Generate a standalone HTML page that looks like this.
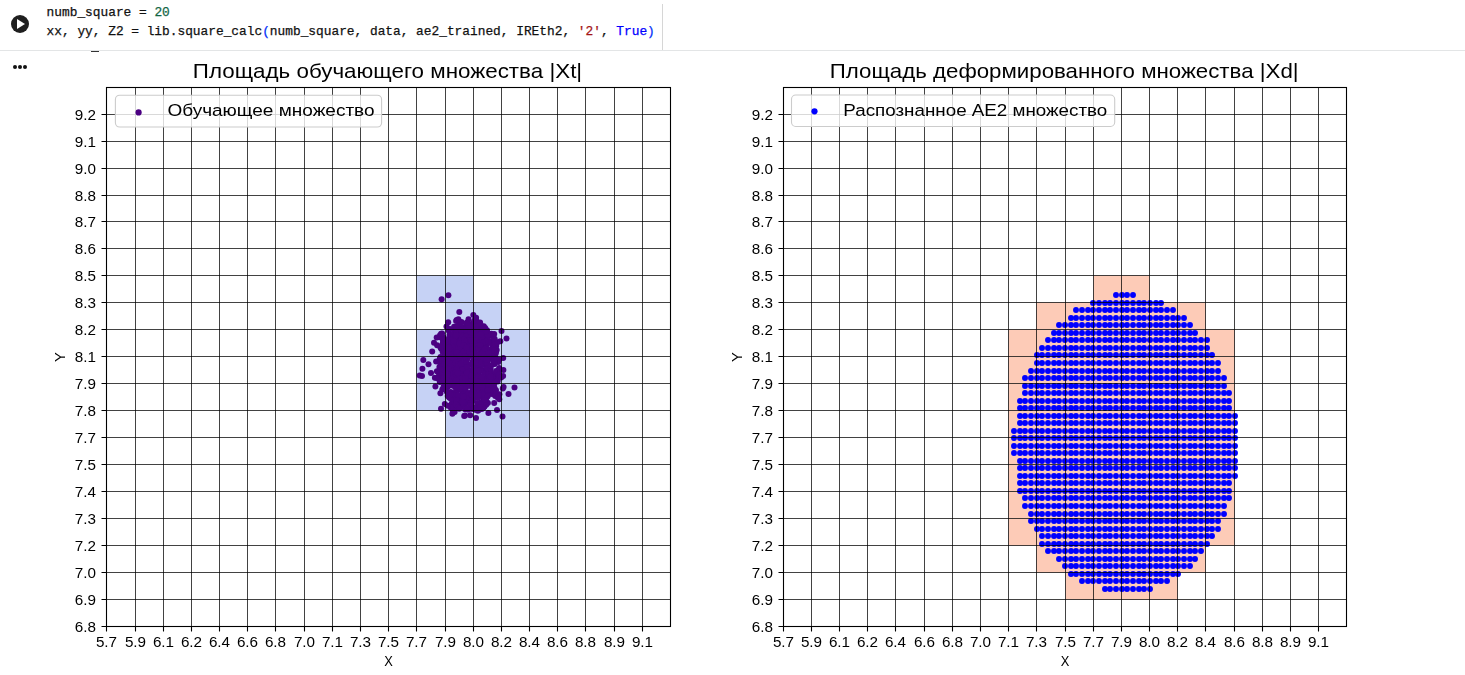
<!DOCTYPE html>
<html><head><meta charset="utf-8"><title>Colab cell</title>
<style>
html,body{margin:0;padding:0;background:#fff;}
body{width:1465px;height:675px;position:relative;overflow:hidden;font-family:"Liberation Sans",sans-serif;}
.code{position:absolute;left:46.6px;font-family:"Liberation Mono",monospace;font-size:12.83px;color:#111;white-space:pre;-webkit-text-stroke:0.25px currentColor;line-height:16px;}
.hline{position:absolute;left:0;top:50px;width:1465px;height:1px;background:#e3e5e6;}
.vline{position:absolute;left:662px;top:4px;width:1px;height:46px;background:#d6d6d6;}
.play{position:absolute;left:11px;top:14.8px;width:18px;height:18px;border-radius:50%;background:#1f1f1f;}
.play:after{content:"";position:absolute;left:6.4px;top:3.95px;border-left:8.5px solid #fff;border-top:5.2px solid transparent;border-bottom:5.2px solid transparent;}
.dash{position:absolute;left:91px;top:50.5px;width:8px;height:1.2px;background:#333;}
.dots{position:absolute;top:65px;width:4px;height:4px;border-radius:50%;background:#111;}
</style></head>
<body>
<div class="play"></div>
<div class="code" style="top:5px">numb_square = <span style="color:#116644">20</span></div>
<div class="code" style="top:24px">xx, yy, Z2 = lib.square_calc<span style="color:#0431fa">(</span>numb_square, data, ae2_trained, IREth2, <span style="color:#a31515">'2'</span>, <span style="color:#0000ff">True</span><span style="color:#0431fa">)</span></div>
<div class="vline"></div>
<div class="hline"></div>
<div class="dash"></div>
<div class="dots" style="left:13px"></div><div class="dots" style="left:18px"></div><div class="dots" style="left:23px"></div>
<svg width="1465" height="675" viewBox="0 0 1465 675" style="position:absolute;left:0;top:0;will-change:transform" font-family="Liberation Sans, sans-serif">
<g fill="#c6d2f5"><rect x="416.5" y="275.5" width="57" height="27"/><rect x="445.5" y="302.5" width="56" height="27"/><rect x="416.5" y="329.5" width="113" height="27"/><rect x="416.5" y="356.5" width="113" height="27"/><rect x="416.5" y="383.5" width="113" height="27"/><rect x="445.5" y="410.5" width="84" height="27"/></g>
<g fill="#4b0082"><circle cx="446.3" cy="366.4" r="3"/><circle cx="475.2" cy="325.0" r="3"/><circle cx="496.3" cy="377.2" r="3"/><circle cx="461.0" cy="367.5" r="3"/><circle cx="478.9" cy="346.7" r="3"/><circle cx="446.9" cy="391.8" r="3"/><circle cx="479.4" cy="367.6" r="3"/><circle cx="488.3" cy="370.8" r="3"/><circle cx="472.3" cy="365.1" r="3"/><circle cx="460.0" cy="374.6" r="3"/><circle cx="452.9" cy="393.1" r="3"/><circle cx="491.4" cy="333.8" r="3"/><circle cx="467.0" cy="346.9" r="3"/><circle cx="464.7" cy="335.5" r="3"/><circle cx="479.6" cy="340.3" r="3"/><circle cx="493.5" cy="341.6" r="3"/><circle cx="459.6" cy="363.8" r="3"/><circle cx="493.8" cy="383.9" r="3"/><circle cx="459.2" cy="324.0" r="3"/><circle cx="466.5" cy="383.3" r="3"/><circle cx="490.1" cy="374.2" r="3"/><circle cx="457.3" cy="350.4" r="3"/><circle cx="443.9" cy="337.7" r="3"/><circle cx="466.9" cy="333.7" r="3"/><circle cx="483.6" cy="339.7" r="3"/><circle cx="442.3" cy="375.2" r="3"/><circle cx="487.6" cy="339.2" r="3"/><circle cx="456.4" cy="386.5" r="3"/><circle cx="468.6" cy="397.6" r="3"/><circle cx="451.7" cy="350.2" r="3"/><circle cx="495.9" cy="352.5" r="3"/><circle cx="465.1" cy="350.2" r="3"/><circle cx="442.6" cy="358.1" r="3"/><circle cx="453.5" cy="396.9" r="3"/><circle cx="483.8" cy="370.5" r="3"/><circle cx="478.9" cy="383.4" r="3"/><circle cx="486.1" cy="404.1" r="3"/><circle cx="447.6" cy="377.6" r="3"/><circle cx="447.3" cy="361.5" r="3"/><circle cx="486.5" cy="401.2" r="3"/><circle cx="460.4" cy="336.8" r="3"/><circle cx="453.4" cy="353.9" r="3"/><circle cx="477.3" cy="336.6" r="3"/><circle cx="468.9" cy="329.4" r="3"/><circle cx="475.8" cy="342.9" r="3"/><circle cx="472.4" cy="378.6" r="3"/><circle cx="458.3" cy="379.1" r="3"/><circle cx="460.0" cy="334.0" r="3"/><circle cx="457.7" cy="357.3" r="3"/><circle cx="443.8" cy="371.9" r="3"/><circle cx="481.2" cy="328.4" r="3"/><circle cx="487.7" cy="382.6" r="3"/><circle cx="447.3" cy="363.4" r="3"/><circle cx="482.3" cy="393.3" r="3"/><circle cx="484.9" cy="346.0" r="3"/><circle cx="486.7" cy="344.4" r="3"/><circle cx="446.9" cy="356.9" r="3"/><circle cx="468.9" cy="347.7" r="3"/><circle cx="475.5" cy="375.5" r="3"/><circle cx="453.1" cy="377.3" r="3"/><circle cx="460.3" cy="387.2" r="3"/><circle cx="456.2" cy="392.8" r="3"/><circle cx="463.8" cy="371.2" r="3"/><circle cx="479.6" cy="368.1" r="3"/><circle cx="444.4" cy="351.1" r="3"/><circle cx="472.0" cy="325.0" r="3"/><circle cx="447.9" cy="392.8" r="3"/><circle cx="486.3" cy="378.6" r="3"/><circle cx="493.5" cy="389.0" r="3"/><circle cx="456.7" cy="379.2" r="3"/><circle cx="459.2" cy="388.5" r="3"/><circle cx="462.0" cy="336.0" r="3"/><circle cx="492.0" cy="383.3" r="3"/><circle cx="483.9" cy="371.7" r="3"/><circle cx="486.3" cy="361.9" r="3"/><circle cx="473.0" cy="328.0" r="3"/><circle cx="472.4" cy="394.2" r="3"/><circle cx="481.5" cy="393.2" r="3"/><circle cx="468.8" cy="400.1" r="3"/><circle cx="461.1" cy="330.5" r="3"/><circle cx="476.3" cy="362.5" r="3"/><circle cx="464.6" cy="397.5" r="3"/><circle cx="446.9" cy="376.8" r="3"/><circle cx="463.7" cy="369.0" r="3"/><circle cx="469.0" cy="334.3" r="3"/><circle cx="469.7" cy="398.4" r="3"/><circle cx="442.6" cy="363.0" r="3"/><circle cx="498.9" cy="369.7" r="3"/><circle cx="445.8" cy="359.3" r="3"/><circle cx="451.1" cy="385.3" r="3"/><circle cx="471.5" cy="347.8" r="3"/><circle cx="454.1" cy="398.8" r="3"/><circle cx="485.2" cy="360.9" r="3"/><circle cx="463.2" cy="387.4" r="3"/><circle cx="448.2" cy="354.4" r="3"/><circle cx="469.5" cy="328.8" r="3"/><circle cx="462.0" cy="387.6" r="3"/><circle cx="475.7" cy="325.1" r="3"/><circle cx="441.2" cy="362.3" r="3"/><circle cx="460.8" cy="400.6" r="3"/><circle cx="495.2" cy="358.3" r="3"/><circle cx="484.0" cy="354.7" r="3"/><circle cx="447.9" cy="373.1" r="3"/><circle cx="443.8" cy="380.9" r="3"/><circle cx="487.9" cy="403.1" r="3"/><circle cx="465.8" cy="332.8" r="3"/><circle cx="497.5" cy="374.8" r="3"/><circle cx="479.6" cy="355.3" r="3"/><circle cx="449.7" cy="348.2" r="3"/><circle cx="482.5" cy="351.1" r="3"/><circle cx="480.7" cy="366.7" r="3"/><circle cx="465.9" cy="407.7" r="3"/><circle cx="448.6" cy="365.4" r="3"/><circle cx="468.3" cy="351.7" r="3"/><circle cx="448.8" cy="374.8" r="3"/><circle cx="462.8" cy="333.7" r="3"/><circle cx="440.5" cy="356.9" r="3"/><circle cx="474.1" cy="368.2" r="3"/><circle cx="467.6" cy="368.6" r="3"/><circle cx="462.7" cy="357.7" r="3"/><circle cx="467.0" cy="385.7" r="3"/><circle cx="465.1" cy="354.5" r="3"/><circle cx="478.7" cy="336.8" r="3"/><circle cx="439.2" cy="374.6" r="3"/><circle cx="470.9" cy="398.7" r="3"/><circle cx="463.9" cy="391.7" r="3"/><circle cx="475.0" cy="342.4" r="3"/><circle cx="461.4" cy="352.2" r="3"/><circle cx="472.9" cy="400.6" r="3"/><circle cx="460.8" cy="338.7" r="3"/><circle cx="462.0" cy="350.4" r="3"/><circle cx="462.1" cy="327.0" r="3"/><circle cx="472.3" cy="377.4" r="3"/><circle cx="484.2" cy="406.8" r="3"/><circle cx="460.1" cy="380.3" r="3"/><circle cx="465.5" cy="341.4" r="3"/><circle cx="492.7" cy="388.1" r="3"/><circle cx="463.6" cy="383.0" r="3"/><circle cx="465.2" cy="367.7" r="3"/><circle cx="484.9" cy="328.7" r="3"/><circle cx="479.9" cy="326.8" r="3"/><circle cx="453.7" cy="386.1" r="3"/><circle cx="480.2" cy="358.2" r="3"/><circle cx="456.5" cy="395.4" r="3"/><circle cx="488.0" cy="333.3" r="3"/><circle cx="457.2" cy="374.0" r="3"/><circle cx="457.3" cy="355.9" r="3"/><circle cx="444.9" cy="356.7" r="3"/><circle cx="494.0" cy="347.2" r="3"/><circle cx="455.0" cy="382.3" r="3"/><circle cx="492.4" cy="348.5" r="3"/><circle cx="461.5" cy="385.4" r="3"/><circle cx="486.8" cy="376.5" r="3"/><circle cx="449.4" cy="338.4" r="3"/><circle cx="484.7" cy="384.7" r="3"/><circle cx="493.2" cy="391.1" r="3"/><circle cx="464.2" cy="334.2" r="3"/><circle cx="492.8" cy="383.7" r="3"/><circle cx="473.7" cy="382.5" r="3"/><circle cx="462.0" cy="352.7" r="3"/><circle cx="473.6" cy="365.0" r="3"/><circle cx="481.7" cy="404.9" r="3"/><circle cx="490.2" cy="356.6" r="3"/><circle cx="461.2" cy="404.1" r="3"/><circle cx="462.6" cy="392.9" r="3"/><circle cx="444.2" cy="362.2" r="3"/><circle cx="470.0" cy="393.7" r="3"/><circle cx="492.0" cy="335.9" r="3"/><circle cx="476.1" cy="377.9" r="3"/><circle cx="447.7" cy="395.9" r="3"/><circle cx="472.3" cy="407.1" r="3"/><circle cx="449.9" cy="368.7" r="3"/><circle cx="458.2" cy="379.0" r="3"/><circle cx="475.6" cy="367.6" r="3"/><circle cx="458.3" cy="366.8" r="3"/><circle cx="461.2" cy="400.9" r="3"/><circle cx="466.7" cy="364.3" r="3"/><circle cx="454.3" cy="344.8" r="3"/><circle cx="496.7" cy="350.1" r="3"/><circle cx="491.5" cy="374.8" r="3"/><circle cx="495.9" cy="390.5" r="3"/><circle cx="473.1" cy="384.9" r="3"/><circle cx="482.6" cy="362.0" r="3"/><circle cx="477.2" cy="342.6" r="3"/><circle cx="439.8" cy="382.0" r="3"/><circle cx="467.4" cy="402.2" r="3"/><circle cx="454.6" cy="394.5" r="3"/><circle cx="448.6" cy="342.6" r="3"/><circle cx="460.6" cy="332.7" r="3"/><circle cx="495.4" cy="354.3" r="3"/><circle cx="476.7" cy="362.5" r="3"/><circle cx="483.8" cy="393.4" r="3"/><circle cx="461.9" cy="369.6" r="3"/><circle cx="444.4" cy="347.6" r="3"/><circle cx="452.1" cy="349.7" r="3"/><circle cx="458.3" cy="373.1" r="3"/><circle cx="458.8" cy="351.3" r="3"/><circle cx="491.3" cy="378.3" r="3"/><circle cx="482.9" cy="406.8" r="3"/><circle cx="451.8" cy="403.5" r="3"/><circle cx="453.3" cy="368.2" r="3"/><circle cx="480.0" cy="392.7" r="3"/><circle cx="453.6" cy="364.5" r="3"/><circle cx="441.3" cy="347.8" r="3"/><circle cx="474.0" cy="391.7" r="3"/><circle cx="493.5" cy="351.7" r="3"/><circle cx="498.3" cy="362.0" r="3"/><circle cx="448.2" cy="369.1" r="3"/><circle cx="474.7" cy="383.5" r="3"/><circle cx="479.4" cy="326.1" r="3"/><circle cx="477.5" cy="403.6" r="3"/><circle cx="479.4" cy="408.3" r="3"/><circle cx="469.7" cy="393.8" r="3"/><circle cx="465.1" cy="399.6" r="3"/><circle cx="458.1" cy="377.4" r="3"/><circle cx="490.1" cy="385.1" r="3"/><circle cx="476.3" cy="407.9" r="3"/><circle cx="472.1" cy="406.5" r="3"/><circle cx="480.4" cy="349.7" r="3"/><circle cx="445.1" cy="361.9" r="3"/><circle cx="467.8" cy="363.7" r="3"/><circle cx="476.3" cy="346.5" r="3"/><circle cx="492.2" cy="347.9" r="3"/><circle cx="445.0" cy="353.2" r="3"/><circle cx="455.4" cy="404.0" r="3"/><circle cx="459.7" cy="396.7" r="3"/><circle cx="453.0" cy="338.4" r="3"/><circle cx="472.2" cy="335.2" r="3"/><circle cx="490.3" cy="357.3" r="3"/><circle cx="457.6" cy="366.6" r="3"/><circle cx="454.6" cy="374.9" r="3"/><circle cx="484.2" cy="406.7" r="3"/><circle cx="477.3" cy="387.1" r="3"/><circle cx="474.3" cy="329.7" r="3"/><circle cx="442.3" cy="389.4" r="3"/><circle cx="450.8" cy="392.0" r="3"/><circle cx="466.8" cy="323.1" r="3"/><circle cx="472.8" cy="361.5" r="3"/><circle cx="443.0" cy="345.5" r="3"/><circle cx="457.2" cy="352.9" r="3"/><circle cx="481.6" cy="337.2" r="3"/><circle cx="465.5" cy="375.9" r="3"/><circle cx="443.3" cy="339.4" r="3"/><circle cx="452.0" cy="336.8" r="3"/><circle cx="443.1" cy="340.9" r="3"/><circle cx="452.1" cy="364.7" r="3"/><circle cx="478.0" cy="354.5" r="3"/><circle cx="448.8" cy="330.8" r="3"/><circle cx="454.5" cy="337.5" r="3"/><circle cx="467.8" cy="399.2" r="3"/><circle cx="482.2" cy="340.4" r="3"/><circle cx="465.1" cy="354.5" r="3"/><circle cx="480.1" cy="329.9" r="3"/><circle cx="454.0" cy="382.8" r="3"/><circle cx="473.2" cy="368.0" r="3"/><circle cx="450.4" cy="372.3" r="3"/><circle cx="473.0" cy="408.7" r="3"/><circle cx="498.1" cy="374.2" r="3"/><circle cx="484.8" cy="383.9" r="3"/><circle cx="446.6" cy="375.5" r="3"/><circle cx="457.2" cy="354.1" r="3"/><circle cx="490.6" cy="385.6" r="3"/><circle cx="484.4" cy="347.8" r="3"/><circle cx="464.0" cy="338.0" r="3"/><circle cx="475.2" cy="396.3" r="3"/><circle cx="486.0" cy="404.7" r="3"/><circle cx="454.4" cy="384.2" r="3"/><circle cx="446.2" cy="369.7" r="3"/><circle cx="445.2" cy="370.1" r="3"/><circle cx="471.6" cy="353.0" r="3"/><circle cx="459.8" cy="385.1" r="3"/><circle cx="467.8" cy="358.4" r="3"/><circle cx="445.4" cy="347.3" r="3"/><circle cx="461.3" cy="399.1" r="3"/><circle cx="491.8" cy="341.7" r="3"/><circle cx="455.2" cy="383.8" r="3"/><circle cx="457.2" cy="406.6" r="3"/><circle cx="460.8" cy="386.8" r="3"/><circle cx="481.6" cy="341.3" r="3"/><circle cx="491.3" cy="351.4" r="3"/><circle cx="466.1" cy="378.2" r="3"/><circle cx="455.1" cy="396.6" r="3"/><circle cx="454.8" cy="397.1" r="3"/><circle cx="448.2" cy="361.9" r="3"/><circle cx="459.9" cy="357.2" r="3"/><circle cx="490.4" cy="373.5" r="3"/><circle cx="475.4" cy="356.8" r="3"/><circle cx="487.8" cy="366.7" r="3"/><circle cx="484.0" cy="402.9" r="3"/><circle cx="475.8" cy="360.8" r="3"/><circle cx="454.6" cy="402.8" r="3"/><circle cx="485.2" cy="392.9" r="3"/><circle cx="452.0" cy="360.9" r="3"/><circle cx="492.4" cy="344.1" r="3"/><circle cx="488.1" cy="369.9" r="3"/><circle cx="451.8" cy="355.5" r="3"/><circle cx="443.2" cy="381.7" r="3"/><circle cx="456.9" cy="390.2" r="3"/><circle cx="450.7" cy="369.8" r="3"/><circle cx="487.7" cy="372.7" r="3"/><circle cx="484.0" cy="372.2" r="3"/><circle cx="458.8" cy="373.7" r="3"/><circle cx="462.4" cy="332.9" r="3"/><circle cx="448.9" cy="344.1" r="3"/><circle cx="477.3" cy="373.6" r="3"/><circle cx="474.5" cy="394.8" r="3"/><circle cx="444.3" cy="356.7" r="3"/><circle cx="443.3" cy="359.4" r="3"/><circle cx="444.9" cy="356.8" r="3"/><circle cx="485.0" cy="347.3" r="3"/><circle cx="483.8" cy="343.0" r="3"/><circle cx="456.0" cy="364.0" r="3"/><circle cx="443.1" cy="362.0" r="3"/><circle cx="474.1" cy="395.1" r="3"/><circle cx="473.2" cy="373.4" r="3"/><circle cx="455.4" cy="370.6" r="3"/><circle cx="471.4" cy="402.6" r="3"/><circle cx="475.2" cy="409.7" r="3"/><circle cx="452.7" cy="380.8" r="3"/><circle cx="473.7" cy="367.7" r="3"/><circle cx="476.8" cy="371.0" r="3"/><circle cx="459.0" cy="379.0" r="3"/><circle cx="443.6" cy="364.7" r="3"/><circle cx="466.1" cy="341.3" r="3"/><circle cx="473.2" cy="381.5" r="3"/><circle cx="446.1" cy="348.6" r="3"/><circle cx="442.3" cy="375.1" r="3"/><circle cx="443.5" cy="342.7" r="3"/><circle cx="465.8" cy="362.3" r="3"/><circle cx="452.5" cy="376.2" r="3"/><circle cx="452.1" cy="374.9" r="3"/><circle cx="460.0" cy="350.5" r="3"/><circle cx="467.4" cy="374.1" r="3"/><circle cx="475.0" cy="383.1" r="3"/><circle cx="454.9" cy="330.6" r="3"/><circle cx="454.0" cy="351.2" r="3"/><circle cx="475.5" cy="359.0" r="3"/><circle cx="457.5" cy="331.2" r="3"/><circle cx="474.9" cy="332.2" r="3"/><circle cx="470.0" cy="383.1" r="3"/><circle cx="476.5" cy="336.6" r="3"/><circle cx="460.2" cy="405.3" r="3"/><circle cx="444.0" cy="382.2" r="3"/><circle cx="465.1" cy="376.5" r="3"/><circle cx="462.5" cy="333.4" r="3"/><circle cx="472.8" cy="323.0" r="3"/><circle cx="491.2" cy="392.8" r="3"/><circle cx="461.3" cy="369.8" r="3"/><circle cx="470.7" cy="408.7" r="3"/><circle cx="441.2" cy="348.7" r="3"/><circle cx="463.3" cy="391.8" r="3"/><circle cx="483.0" cy="359.8" r="3"/><circle cx="439.2" cy="379.5" r="3"/><circle cx="463.3" cy="332.8" r="3"/><circle cx="477.0" cy="361.7" r="3"/><circle cx="457.2" cy="346.2" r="3"/><circle cx="470.3" cy="344.3" r="3"/><circle cx="462.5" cy="405.4" r="3"/><circle cx="467.6" cy="344.8" r="3"/><circle cx="470.3" cy="403.2" r="3"/><circle cx="491.3" cy="382.1" r="3"/><circle cx="493.3" cy="389.1" r="3"/><circle cx="480.0" cy="360.2" r="3"/><circle cx="447.6" cy="386.9" r="3"/><circle cx="477.2" cy="407.7" r="3"/><circle cx="458.1" cy="399.7" r="3"/><circle cx="497.6" cy="381.5" r="3"/><circle cx="453.7" cy="405.6" r="3"/><circle cx="487.6" cy="360.2" r="3"/><circle cx="484.9" cy="401.9" r="3"/><circle cx="456.8" cy="399.4" r="3"/><circle cx="454.9" cy="351.4" r="3"/><circle cx="472.1" cy="324.6" r="3"/><circle cx="471.8" cy="337.5" r="3"/><circle cx="484.2" cy="333.8" r="3"/><circle cx="451.1" cy="346.2" r="3"/><circle cx="474.0" cy="393.6" r="3"/><circle cx="484.4" cy="387.7" r="3"/><circle cx="480.1" cy="370.3" r="3"/><circle cx="459.4" cy="338.3" r="3"/><circle cx="491.2" cy="358.5" r="3"/><circle cx="478.2" cy="328.5" r="3"/><circle cx="460.5" cy="331.3" r="3"/><circle cx="460.1" cy="387.0" r="3"/><circle cx="459.3" cy="382.5" r="3"/><circle cx="446.0" cy="356.4" r="3"/><circle cx="463.5" cy="367.3" r="3"/><circle cx="452.4" cy="384.0" r="3"/><circle cx="492.3" cy="394.0" r="3"/><circle cx="440.4" cy="365.5" r="3"/><circle cx="459.5" cy="372.9" r="3"/><circle cx="443.6" cy="386.7" r="3"/><circle cx="463.9" cy="405.6" r="3"/><circle cx="439.7" cy="359.3" r="3"/><circle cx="468.2" cy="395.6" r="3"/><circle cx="484.6" cy="338.5" r="3"/><circle cx="457.3" cy="387.2" r="3"/><circle cx="464.1" cy="345.6" r="3"/><circle cx="460.2" cy="370.9" r="3"/><circle cx="495.2" cy="341.6" r="3"/><circle cx="482.8" cy="382.9" r="3"/><circle cx="480.3" cy="370.4" r="3"/><circle cx="474.0" cy="339.9" r="3"/><circle cx="472.8" cy="381.7" r="3"/><circle cx="468.1" cy="382.3" r="3"/><circle cx="466.4" cy="393.2" r="3"/><circle cx="482.5" cy="330.3" r="3"/><circle cx="485.4" cy="347.6" r="3"/><circle cx="458.3" cy="368.7" r="3"/><circle cx="458.6" cy="340.4" r="3"/><circle cx="485.4" cy="355.4" r="3"/><circle cx="491.8" cy="344.0" r="3"/><circle cx="480.6" cy="354.0" r="3"/><circle cx="490.3" cy="379.4" r="3"/><circle cx="479.9" cy="330.7" r="3"/><circle cx="484.3" cy="353.7" r="3"/><circle cx="483.7" cy="396.9" r="3"/><circle cx="493.4" cy="360.8" r="3"/><circle cx="442.1" cy="373.7" r="3"/><circle cx="470.7" cy="395.1" r="3"/><circle cx="452.7" cy="363.2" r="3"/><circle cx="463.2" cy="376.0" r="3"/><circle cx="480.6" cy="358.9" r="3"/><circle cx="462.9" cy="345.1" r="3"/><circle cx="466.9" cy="373.1" r="3"/><circle cx="462.4" cy="367.0" r="3"/><circle cx="477.3" cy="397.5" r="3"/><circle cx="472.7" cy="356.2" r="3"/><circle cx="454.7" cy="335.8" r="3"/><circle cx="462.0" cy="352.7" r="3"/><circle cx="460.1" cy="397.4" r="3"/><circle cx="456.2" cy="334.2" r="3"/><circle cx="464.7" cy="354.2" r="3"/><circle cx="485.9" cy="404.8" r="3"/><circle cx="469.6" cy="394.2" r="3"/><circle cx="454.6" cy="353.3" r="3"/><circle cx="473.7" cy="343.3" r="3"/><circle cx="455.3" cy="339.0" r="3"/><circle cx="454.5" cy="396.4" r="3"/><circle cx="487.0" cy="332.5" r="3"/><circle cx="459.8" cy="386.1" r="3"/><circle cx="490.9" cy="371.8" r="3"/><circle cx="482.8" cy="343.4" r="3"/><circle cx="486.2" cy="394.7" r="3"/><circle cx="463.3" cy="343.3" r="3"/><circle cx="440.5" cy="377.9" r="3"/><circle cx="470.2" cy="405.1" r="3"/><circle cx="442.0" cy="360.9" r="3"/><circle cx="462.0" cy="399.1" r="3"/><circle cx="454.3" cy="357.2" r="3"/><circle cx="475.3" cy="376.6" r="3"/><circle cx="475.6" cy="379.8" r="3"/><circle cx="476.0" cy="325.5" r="3"/><circle cx="478.4" cy="373.9" r="3"/><circle cx="451.8" cy="359.4" r="3"/><circle cx="453.0" cy="398.9" r="3"/><circle cx="455.5" cy="336.8" r="3"/><circle cx="487.1" cy="389.5" r="3"/><circle cx="490.5" cy="382.1" r="3"/><circle cx="463.9" cy="364.3" r="3"/><circle cx="472.4" cy="374.9" r="3"/><circle cx="496.2" cy="345.9" r="3"/><circle cx="453.8" cy="367.5" r="3"/><circle cx="494.4" cy="380.1" r="3"/><circle cx="468.3" cy="384.3" r="3"/><circle cx="449.6" cy="334.8" r="3"/><circle cx="456.1" cy="335.3" r="3"/><circle cx="485.1" cy="395.9" r="3"/><circle cx="458.2" cy="382.9" r="3"/><circle cx="485.5" cy="363.0" r="3"/><circle cx="477.5" cy="403.2" r="3"/><circle cx="482.0" cy="390.8" r="3"/><circle cx="493.8" cy="359.3" r="3"/><circle cx="448.0" cy="364.2" r="3"/><circle cx="461.1" cy="357.1" r="3"/><circle cx="487.5" cy="379.9" r="3"/><circle cx="480.0" cy="379.9" r="3"/><circle cx="462.6" cy="397.3" r="3"/><circle cx="478.1" cy="392.1" r="3"/><circle cx="476.5" cy="391.5" r="3"/><circle cx="483.7" cy="394.0" r="3"/><circle cx="494.8" cy="343.4" r="3"/><circle cx="457.1" cy="334.4" r="3"/><circle cx="477.2" cy="325.1" r="3"/><circle cx="487.2" cy="348.8" r="3"/><circle cx="483.9" cy="402.6" r="3"/><circle cx="480.6" cy="359.9" r="3"/><circle cx="476.6" cy="397.8" r="3"/><circle cx="481.9" cy="344.7" r="3"/><circle cx="476.5" cy="328.1" r="3"/><circle cx="472.1" cy="374.3" r="3"/><circle cx="456.4" cy="400.5" r="3"/><circle cx="453.1" cy="335.2" r="3"/><circle cx="457.4" cy="352.3" r="3"/><circle cx="492.4" cy="380.3" r="3"/><circle cx="445.9" cy="357.1" r="3"/><circle cx="444.8" cy="384.6" r="3"/><circle cx="469.0" cy="344.0" r="3"/><circle cx="455.9" cy="388.2" r="3"/><circle cx="471.6" cy="349.8" r="3"/><circle cx="442.3" cy="375.5" r="3"/><circle cx="448.0" cy="383.0" r="3"/><circle cx="484.1" cy="335.0" r="3"/><circle cx="474.9" cy="340.8" r="3"/><circle cx="485.1" cy="347.7" r="3"/><circle cx="480.6" cy="379.5" r="3"/><circle cx="473.6" cy="341.7" r="3"/><circle cx="489.4" cy="353.7" r="3"/><circle cx="485.5" cy="364.3" r="3"/><circle cx="465.8" cy="385.2" r="3"/><circle cx="459.3" cy="389.7" r="3"/><circle cx="465.6" cy="387.7" r="3"/><circle cx="481.1" cy="405.7" r="3"/><circle cx="463.4" cy="353.2" r="3"/><circle cx="499.2" cy="367.9" r="3"/><circle cx="464.0" cy="384.2" r="3"/><circle cx="453.8" cy="406.8" r="3"/><circle cx="484.5" cy="379.6" r="3"/><circle cx="456.3" cy="393.7" r="3"/><circle cx="494.6" cy="392.1" r="3"/><circle cx="483.7" cy="398.7" r="3"/><circle cx="467.5" cy="329.6" r="3"/><circle cx="471.6" cy="343.8" r="3"/><circle cx="489.3" cy="378.3" r="3"/><circle cx="484.2" cy="381.6" r="3"/><circle cx="466.7" cy="333.2" r="3"/><circle cx="456.1" cy="367.0" r="3"/><circle cx="474.0" cy="349.0" r="3"/><circle cx="446.3" cy="352.6" r="3"/><circle cx="452.0" cy="357.2" r="3"/><circle cx="471.6" cy="344.7" r="3"/><circle cx="468.7" cy="371.1" r="3"/><circle cx="471.3" cy="335.4" r="3"/><circle cx="482.9" cy="365.0" r="3"/><circle cx="454.2" cy="355.9" r="3"/><circle cx="467.9" cy="355.1" r="3"/><circle cx="453.6" cy="359.1" r="3"/><circle cx="465.1" cy="383.0" r="3"/><circle cx="477.0" cy="370.8" r="3"/><circle cx="449.0" cy="380.0" r="3"/><circle cx="448.6" cy="374.1" r="3"/><circle cx="479.7" cy="333.5" r="3"/><circle cx="486.7" cy="359.7" r="3"/><circle cx="443.3" cy="377.1" r="3"/><circle cx="454.2" cy="357.9" r="3"/><circle cx="493.9" cy="352.8" r="3"/><circle cx="472.4" cy="390.7" r="3"/><circle cx="484.7" cy="364.0" r="3"/><circle cx="453.1" cy="333.8" r="3"/><circle cx="452.1" cy="340.1" r="3"/><circle cx="493.9" cy="358.4" r="3"/><circle cx="445.6" cy="378.7" r="3"/><circle cx="466.4" cy="325.1" r="3"/><circle cx="454.5" cy="395.8" r="3"/><circle cx="466.3" cy="381.8" r="3"/><circle cx="478.4" cy="386.9" r="3"/><circle cx="465.4" cy="335.4" r="3"/><circle cx="487.6" cy="361.3" r="3"/><circle cx="465.5" cy="389.3" r="3"/><circle cx="462.2" cy="378.4" r="3"/><circle cx="454.0" cy="347.1" r="3"/><circle cx="465.7" cy="342.6" r="3"/><circle cx="495.6" cy="360.2" r="3"/><circle cx="461.8" cy="401.9" r="3"/><circle cx="487.0" cy="390.3" r="3"/><circle cx="494.3" cy="387.3" r="3"/><circle cx="457.1" cy="407.1" r="3"/><circle cx="464.1" cy="352.2" r="3"/><circle cx="467.4" cy="357.7" r="3"/><circle cx="491.0" cy="393.4" r="3"/><circle cx="484.0" cy="343.0" r="3"/><circle cx="465.3" cy="329.1" r="3"/><circle cx="483.8" cy="326.2" r="3"/><circle cx="462.7" cy="335.8" r="3"/><circle cx="456.2" cy="399.3" r="3"/><circle cx="449.4" cy="385.1" r="3"/><circle cx="453.8" cy="361.7" r="3"/><circle cx="475.8" cy="353.4" r="3"/><circle cx="450.6" cy="374.2" r="3"/><circle cx="458.2" cy="345.2" r="3"/><circle cx="443.2" cy="340.5" r="3"/><circle cx="482.8" cy="332.6" r="3"/><circle cx="477.9" cy="348.5" r="3"/><circle cx="452.5" cy="365.1" r="3"/><circle cx="465.1" cy="361.8" r="3"/><circle cx="445.7" cy="372.2" r="3"/><circle cx="443.4" cy="374.1" r="3"/><circle cx="457.9" cy="344.7" r="3"/><circle cx="494.7" cy="376.8" r="3"/><circle cx="443.1" cy="369.8" r="3"/><circle cx="455.2" cy="337.1" r="3"/><circle cx="495.8" cy="373.5" r="3"/><circle cx="488.6" cy="384.9" r="3"/><circle cx="456.3" cy="379.9" r="3"/><circle cx="456.1" cy="363.4" r="3"/><circle cx="488.7" cy="341.9" r="3"/><circle cx="449.2" cy="397.4" r="3"/><circle cx="466.8" cy="337.8" r="3"/><circle cx="457.9" cy="347.2" r="3"/><circle cx="493.2" cy="364.1" r="3"/><circle cx="494.6" cy="363.9" r="3"/><circle cx="473.1" cy="391.7" r="3"/><circle cx="456.0" cy="332.7" r="3"/><circle cx="475.4" cy="327.4" r="3"/><circle cx="467.0" cy="377.1" r="3"/><circle cx="485.3" cy="401.4" r="3"/><circle cx="450.9" cy="398.7" r="3"/><circle cx="468.8" cy="377.3" r="3"/><circle cx="466.7" cy="397.1" r="3"/><circle cx="489.1" cy="380.7" r="3"/><circle cx="482.2" cy="333.4" r="3"/><circle cx="451.1" cy="377.5" r="3"/><circle cx="484.1" cy="380.7" r="3"/><circle cx="474.9" cy="380.1" r="3"/><circle cx="447.5" cy="362.2" r="3"/><circle cx="458.6" cy="387.3" r="3"/><circle cx="470.1" cy="385.9" r="3"/><circle cx="480.9" cy="402.2" r="3"/><circle cx="479.2" cy="355.4" r="3"/><circle cx="444.7" cy="364.6" r="3"/><circle cx="489.9" cy="392.6" r="3"/><circle cx="445.0" cy="340.3" r="3"/><circle cx="480.9" cy="407.7" r="3"/><circle cx="480.9" cy="376.7" r="3"/><circle cx="488.0" cy="339.9" r="3"/><circle cx="468.6" cy="393.0" r="3"/><circle cx="461.8" cy="357.7" r="3"/><circle cx="465.7" cy="355.8" r="3"/><circle cx="478.5" cy="397.6" r="3"/><circle cx="491.3" cy="352.6" r="3"/><circle cx="475.6" cy="356.6" r="3"/><circle cx="489.7" cy="392.3" r="3"/><circle cx="478.9" cy="395.0" r="3"/><circle cx="469.6" cy="372.8" r="3"/><circle cx="448.4" cy="384.8" r="3"/><circle cx="456.1" cy="371.9" r="3"/><circle cx="476.1" cy="378.0" r="3"/><circle cx="472.9" cy="344.7" r="3"/><circle cx="478.4" cy="380.7" r="3"/><circle cx="474.5" cy="355.7" r="3"/><circle cx="447.8" cy="371.5" r="3"/><circle cx="460.0" cy="347.4" r="3"/><circle cx="466.0" cy="331.6" r="3"/><circle cx="488.7" cy="373.0" r="3"/><circle cx="495.9" cy="351.6" r="3"/><circle cx="466.9" cy="337.6" r="3"/><circle cx="464.4" cy="404.1" r="3"/><circle cx="479.0" cy="370.5" r="3"/><circle cx="471.2" cy="378.4" r="3"/><circle cx="475.7" cy="362.3" r="3"/><circle cx="469.7" cy="331.4" r="3"/><circle cx="465.6" cy="381.9" r="3"/><circle cx="452.1" cy="346.9" r="3"/><circle cx="487.6" cy="334.5" r="3"/><circle cx="450.4" cy="394.5" r="3"/><circle cx="445.9" cy="348.9" r="3"/><circle cx="494.0" cy="358.8" r="3"/><circle cx="488.4" cy="389.8" r="3"/><circle cx="494.1" cy="350.8" r="3"/><circle cx="463.1" cy="404.8" r="3"/><circle cx="477.9" cy="377.8" r="3"/><circle cx="488.7" cy="357.2" r="3"/><circle cx="443.2" cy="359.0" r="3"/><circle cx="463.3" cy="357.8" r="3"/><circle cx="462.8" cy="368.9" r="3"/><circle cx="471.2" cy="340.5" r="3"/><circle cx="487.0" cy="368.0" r="3"/><circle cx="460.0" cy="407.3" r="3"/><circle cx="481.6" cy="336.8" r="3"/><circle cx="497.6" cy="373.4" r="3"/><circle cx="459.3" cy="343.4" r="3"/><circle cx="442.6" cy="344.0" r="3"/><circle cx="456.1" cy="352.8" r="3"/><circle cx="498.8" cy="374.6" r="3"/><circle cx="450.2" cy="355.1" r="3"/><circle cx="464.9" cy="329.8" r="3"/><circle cx="467.1" cy="367.2" r="3"/><circle cx="494.0" cy="360.6" r="3"/><circle cx="480.5" cy="382.3" r="3"/><circle cx="449.2" cy="372.4" r="3"/><circle cx="465.9" cy="336.8" r="3"/><circle cx="460.9" cy="329.7" r="3"/><circle cx="497.3" cy="380.6" r="3"/><circle cx="463.2" cy="396.2" r="3"/><circle cx="481.7" cy="359.1" r="3"/><circle cx="482.3" cy="387.4" r="3"/><circle cx="449.0" cy="385.5" r="3"/><circle cx="494.4" cy="383.0" r="3"/><circle cx="487.1" cy="363.8" r="3"/><circle cx="472.8" cy="390.0" r="3"/><circle cx="477.1" cy="328.7" r="3"/><circle cx="442.2" cy="346.5" r="3"/><circle cx="488.4" cy="342.0" r="3"/><circle cx="458.0" cy="394.9" r="3"/><circle cx="446.4" cy="347.1" r="3"/><circle cx="454.1" cy="326.7" r="3"/><circle cx="483.8" cy="350.7" r="3"/><circle cx="463.4" cy="351.8" r="3"/><circle cx="446.7" cy="347.6" r="3"/><circle cx="482.5" cy="353.2" r="3"/><circle cx="469.4" cy="351.6" r="3"/><circle cx="472.7" cy="350.4" r="3"/><circle cx="466.3" cy="323.3" r="3"/><circle cx="439.4" cy="367.1" r="3"/><circle cx="487.5" cy="368.6" r="3"/><circle cx="477.8" cy="381.6" r="3"/><circle cx="459.5" cy="361.8" r="3"/><circle cx="486.0" cy="341.5" r="3"/><circle cx="484.6" cy="347.9" r="3"/><circle cx="492.6" cy="389.8" r="3"/><circle cx="465.1" cy="409.3" r="3"/><circle cx="473.3" cy="408.7" r="3"/><circle cx="482.5" cy="326.6" r="3"/><circle cx="487.2" cy="396.2" r="3"/><circle cx="492.2" cy="377.2" r="3"/><circle cx="464.2" cy="339.8" r="3"/><circle cx="451.2" cy="340.2" r="3"/><circle cx="482.6" cy="342.8" r="3"/><circle cx="469.9" cy="338.1" r="3"/><circle cx="493.4" cy="336.2" r="3"/><circle cx="467.0" cy="376.1" r="3"/><circle cx="466.1" cy="341.5" r="3"/><circle cx="456.2" cy="404.7" r="3"/><circle cx="480.3" cy="364.0" r="3"/><circle cx="496.6" cy="358.9" r="3"/><circle cx="439.3" cy="360.8" r="3"/><circle cx="470.8" cy="370.8" r="3"/><circle cx="490.6" cy="368.5" r="3"/><circle cx="483.2" cy="358.9" r="3"/><circle cx="456.6" cy="352.0" r="3"/><circle cx="455.2" cy="362.4" r="3"/><circle cx="475.0" cy="395.6" r="3"/><circle cx="449.1" cy="362.1" r="3"/><circle cx="471.0" cy="394.5" r="3"/><circle cx="481.8" cy="377.3" r="3"/><circle cx="479.6" cy="361.9" r="3"/><circle cx="487.7" cy="396.2" r="3"/><circle cx="473.0" cy="332.8" r="3"/><circle cx="464.5" cy="345.8" r="3"/><circle cx="450.2" cy="348.6" r="3"/><circle cx="488.5" cy="353.1" r="3"/><circle cx="464.7" cy="356.2" r="3"/><circle cx="449.8" cy="372.8" r="3"/><circle cx="463.9" cy="404.9" r="3"/><circle cx="476.2" cy="408.6" r="3"/><circle cx="490.9" cy="365.7" r="3"/><circle cx="445.8" cy="387.4" r="3"/><circle cx="446.9" cy="379.3" r="3"/><circle cx="458.2" cy="364.8" r="3"/><circle cx="484.7" cy="348.8" r="3"/><circle cx="449.0" cy="347.8" r="3"/><circle cx="496.1" cy="371.1" r="3"/><circle cx="456.0" cy="335.3" r="3"/><circle cx="442.7" cy="351.9" r="3"/><circle cx="476.0" cy="362.7" r="3"/><circle cx="473.3" cy="352.9" r="3"/><circle cx="487.0" cy="330.3" r="3"/><circle cx="484.8" cy="400.1" r="3"/><circle cx="485.8" cy="331.2" r="3"/><circle cx="473.9" cy="393.1" r="3"/><circle cx="463.6" cy="396.8" r="3"/><circle cx="448.6" cy="369.0" r="3"/><circle cx="472.5" cy="391.9" r="3"/><circle cx="463.6" cy="345.2" r="3"/><circle cx="481.9" cy="332.6" r="3"/><circle cx="460.9" cy="363.7" r="3"/><circle cx="486.6" cy="359.9" r="3"/><circle cx="472.8" cy="382.2" r="3"/><circle cx="479.7" cy="407.3" r="3"/><circle cx="466.8" cy="372.8" r="3"/><circle cx="453.7" cy="341.1" r="3"/><circle cx="470.2" cy="340.0" r="3"/><circle cx="473.3" cy="395.2" r="3"/><circle cx="442.9" cy="343.9" r="3"/><circle cx="468.8" cy="326.6" r="3"/><circle cx="447.2" cy="373.1" r="3"/><circle cx="462.9" cy="402.0" r="3"/><circle cx="473.3" cy="389.1" r="3"/><circle cx="459.6" cy="355.7" r="3"/><circle cx="490.6" cy="376.6" r="3"/><circle cx="494.3" cy="344.7" r="3"/><circle cx="445.5" cy="382.1" r="3"/><circle cx="462.3" cy="382.9" r="3"/><circle cx="460.5" cy="388.8" r="3"/><circle cx="466.3" cy="347.6" r="3"/><circle cx="471.1" cy="375.7" r="3"/><circle cx="447.6" cy="374.6" r="3"/><circle cx="470.9" cy="340.6" r="3"/><circle cx="457.9" cy="373.0" r="3"/><circle cx="479.0" cy="385.1" r="3"/><circle cx="465.4" cy="378.0" r="3"/><circle cx="472.3" cy="348.6" r="3"/><circle cx="451.9" cy="357.6" r="3"/><circle cx="480.6" cy="334.3" r="3"/><circle cx="477.3" cy="324.3" r="3"/><circle cx="449.7" cy="381.4" r="3"/><circle cx="487.8" cy="390.0" r="3"/><circle cx="480.2" cy="344.9" r="3"/><circle cx="498.8" cy="375.4" r="3"/><circle cx="443.5" cy="378.6" r="3"/><circle cx="467.8" cy="409.2" r="3"/><circle cx="440.4" cy="347.2" r="3"/><circle cx="476.4" cy="320.6" r="3"/><circle cx="465.4" cy="408.3" r="3"/><circle cx="456.7" cy="320.1" r="3"/><circle cx="480.1" cy="322.4" r="3"/><circle cx="495.3" cy="344.1" r="3"/><circle cx="500.3" cy="341.2" r="3"/><circle cx="499.3" cy="399.3" r="3"/><circle cx="499.4" cy="394.2" r="3"/><circle cx="470.2" cy="415.3" r="3"/><circle cx="485.2" cy="328.0" r="3"/><circle cx="452.4" cy="413.7" r="3"/><circle cx="439.1" cy="372.7" r="3"/><circle cx="495.7" cy="389.9" r="3"/><circle cx="495.2" cy="396.1" r="3"/><circle cx="474.4" cy="320.4" r="3"/><circle cx="496.0" cy="394.2" r="3"/><circle cx="436.9" cy="371.3" r="3"/><circle cx="446.5" cy="326.6" r="3"/><circle cx="468.5" cy="319.3" r="3"/><circle cx="503.1" cy="375.9" r="3"/><circle cx="476.1" cy="317.8" r="3"/><circle cx="435.4" cy="386.5" r="3"/><circle cx="498.6" cy="396.0" r="3"/><circle cx="439.7" cy="337.2" r="3"/><circle cx="502.8" cy="388.4" r="3"/><circle cx="499.0" cy="374.8" r="3"/><circle cx="436.1" cy="361.5" r="3"/><circle cx="483.1" cy="408.3" r="3"/><circle cx="497.2" cy="342.5" r="3"/><circle cx="440.2" cy="381.4" r="3"/><circle cx="437.1" cy="345.2" r="3"/><circle cx="467.2" cy="322.4" r="3"/><circle cx="444.8" cy="404.1" r="3"/><circle cx="503.2" cy="358.0" r="3"/><circle cx="474.7" cy="408.6" r="3"/><circle cx="452.9" cy="409.9" r="3"/><circle cx="464.2" cy="416.1" r="3"/><circle cx="467.8" cy="409.5" r="3"/><circle cx="440.0" cy="335.2" r="3"/><circle cx="477.9" cy="410.7" r="3"/><circle cx="467.2" cy="408.6" r="3"/><circle cx="456.5" cy="326.5" r="3"/><circle cx="442.1" cy="333.6" r="3"/><circle cx="440.0" cy="358.5" r="3"/><circle cx="501.2" cy="377.6" r="3"/><circle cx="439.9" cy="369.0" r="3"/><circle cx="503.4" cy="369.9" r="3"/><circle cx="453.0" cy="412.1" r="3"/><circle cx="479.0" cy="409.7" r="3"/><circle cx="494.7" cy="338.9" r="3"/><circle cx="440.4" cy="393.3" r="3"/><circle cx="461.5" cy="322.1" r="3"/><circle cx="450.0" cy="329.0" r="3"/><circle cx="456.4" cy="326.9" r="3"/><circle cx="480.7" cy="406.9" r="3"/><circle cx="497.9" cy="397.7" r="3"/><circle cx="434.9" cy="377.8" r="3"/><circle cx="499.1" cy="359.6" r="3"/><circle cx="473.3" cy="315.0" r="3"/><circle cx="457.9" cy="407.3" r="3"/><circle cx="436.7" cy="377.9" r="3"/><circle cx="456.1" cy="321.1" r="3"/><circle cx="459.1" cy="408.7" r="3"/><circle cx="450.9" cy="407.8" r="3"/><circle cx="481.6" cy="409.1" r="3"/><circle cx="494.2" cy="334.0" r="3"/><circle cx="494.2" cy="402.9" r="3"/><circle cx="447.9" cy="405.7" r="3"/><circle cx="441.6" cy="299.2" r="3"/><circle cx="448.4" cy="295.2" r="3"/><circle cx="459.3" cy="312.1" r="3"/><circle cx="448.2" cy="322.3" r="3"/><circle cx="458.4" cy="319.2" r="3"/><circle cx="441.1" cy="333.7" r="3"/><circle cx="436.7" cy="337.4" r="3"/><circle cx="434.0" cy="342.8" r="3"/><circle cx="432.2" cy="351.4" r="3"/><circle cx="423.3" cy="360.1" r="3"/><circle cx="428.5" cy="364.3" r="3"/><circle cx="422.4" cy="368.7" r="3"/><circle cx="506.5" cy="338.5" r="3"/><circle cx="501.5" cy="331.0" r="3"/><circle cx="503.6" cy="387.0" r="3"/><circle cx="508.5" cy="394.0" r="3"/><circle cx="514.5" cy="387.4" r="3"/><circle cx="488.4" cy="413.0" r="3"/><circle cx="502.5" cy="416.5" r="3"/><circle cx="497.0" cy="410.0" r="3"/><circle cx="476.0" cy="418.0" r="3"/><circle cx="419.7" cy="375.5" r="3"/><circle cx="422.0" cy="376.0" r="3"/><circle cx="441.0" cy="408.8" r="3"/><circle cx="454.6" cy="412.0" r="3"/><circle cx="465.0" cy="415.6" r="3"/><circle cx="431.0" cy="373.0" r="3"/></g>
<path d="M135.5 87.5V626.5M163.5 87.5V626.5M191.5 87.5V626.5M219.5 87.5V626.5M247.5 87.5V626.5M275.5 87.5V626.5M304.5 87.5V626.5M332.5 87.5V626.5M360.5 87.5V626.5M388.5 87.5V626.5M416.5 87.5V626.5M445.5 87.5V626.5M473.5 87.5V626.5M501.5 87.5V626.5M529.5 87.5V626.5M557.5 87.5V626.5M585.5 87.5V626.5M614.5 87.5V626.5M642.5 87.5V626.5" stroke="#000" stroke-opacity="0.74" stroke-width="1" fill="none" shape-rendering="crispEdges"/><path d="M106.5 114.5H670.5M106.5 141.5H670.5M106.5 168.5H670.5M106.5 195.5H670.5M106.5 221.5H670.5M106.5 248.5H670.5M106.5 275.5H670.5M106.5 302.5H670.5M106.5 329.5H670.5M106.5 356.5H670.5M106.5 383.5H670.5M106.5 410.5H670.5M106.5 437.5H670.5M106.5 464.5H670.5M106.5 491.5H670.5M106.5 518.5H670.5M106.5 545.5H670.5M106.5 572.5H670.5M106.5 599.5H670.5" stroke="#000" stroke-opacity="0.74" stroke-width="1" fill="none" shape-rendering="crispEdges"/>
<rect x="106.5" y="87.5" width="564.0" height="539.0" fill="none" stroke="#000" stroke-width="1.1"/><path d="M106.5 626.5v5M135.5 626.5v5M163.5 626.5v5M191.5 626.5v5M219.5 626.5v5M247.5 626.5v5M275.5 626.5v5M304.5 626.5v5M332.5 626.5v5M360.5 626.5v5M388.5 626.5v5M416.5 626.5v5M445.5 626.5v5M473.5 626.5v5M501.5 626.5v5M529.5 626.5v5M557.5 626.5v5M585.5 626.5v5M614.5 626.5v5M642.5 626.5v5M106.5 114.5h-5M106.5 141.5h-5M106.5 168.5h-5M106.5 195.5h-5M106.5 221.5h-5M106.5 248.5h-5M106.5 275.5h-5M106.5 302.5h-5M106.5 329.5h-5M106.5 356.5h-5M106.5 383.5h-5M106.5 410.5h-5M106.5 437.5h-5M106.5 464.5h-5M106.5 491.5h-5M106.5 518.5h-5M106.5 545.5h-5M106.5 572.5h-5M106.5 599.5h-5M106.5 626.5h-5" stroke="#000" stroke-width="1.1" fill="none"/>
<g font-size="14.7" fill="#000"><text x="106.50" y="646.9" text-anchor="middle" textLength="21.2" lengthAdjust="spacingAndGlyphs">5.7</text><text x="135.50" y="646.9" text-anchor="middle" textLength="21.2" lengthAdjust="spacingAndGlyphs">5.9</text><text x="163.50" y="646.9" text-anchor="middle" textLength="21.2" lengthAdjust="spacingAndGlyphs">6.1</text><text x="191.50" y="646.9" text-anchor="middle" textLength="21.2" lengthAdjust="spacingAndGlyphs">6.2</text><text x="219.50" y="646.9" text-anchor="middle" textLength="21.2" lengthAdjust="spacingAndGlyphs">6.4</text><text x="247.50" y="646.9" text-anchor="middle" textLength="21.2" lengthAdjust="spacingAndGlyphs">6.6</text><text x="275.50" y="646.9" text-anchor="middle" textLength="21.2" lengthAdjust="spacingAndGlyphs">6.8</text><text x="304.50" y="646.9" text-anchor="middle" textLength="21.2" lengthAdjust="spacingAndGlyphs">7.0</text><text x="332.50" y="646.9" text-anchor="middle" textLength="21.2" lengthAdjust="spacingAndGlyphs">7.1</text><text x="360.50" y="646.9" text-anchor="middle" textLength="21.2" lengthAdjust="spacingAndGlyphs">7.3</text><text x="388.50" y="646.9" text-anchor="middle" textLength="21.2" lengthAdjust="spacingAndGlyphs">7.5</text><text x="416.50" y="646.9" text-anchor="middle" textLength="21.2" lengthAdjust="spacingAndGlyphs">7.7</text><text x="445.50" y="646.9" text-anchor="middle" textLength="21.2" lengthAdjust="spacingAndGlyphs">7.9</text><text x="473.50" y="646.9" text-anchor="middle" textLength="21.2" lengthAdjust="spacingAndGlyphs">8.0</text><text x="501.50" y="646.9" text-anchor="middle" textLength="21.2" lengthAdjust="spacingAndGlyphs">8.2</text><text x="529.50" y="646.9" text-anchor="middle" textLength="21.2" lengthAdjust="spacingAndGlyphs">8.4</text><text x="557.50" y="646.9" text-anchor="middle" textLength="21.2" lengthAdjust="spacingAndGlyphs">8.6</text><text x="585.50" y="646.9" text-anchor="middle" textLength="21.2" lengthAdjust="spacingAndGlyphs">8.8</text><text x="614.50" y="646.9" text-anchor="middle" textLength="21.2" lengthAdjust="spacingAndGlyphs">8.9</text><text x="642.50" y="646.9" text-anchor="middle" textLength="21.2" lengthAdjust="spacingAndGlyphs">9.1</text><text x="95.90" y="120.00" text-anchor="end" textLength="21.2" lengthAdjust="spacingAndGlyphs">9.2</text><text x="95.90" y="147.00" text-anchor="end" textLength="21.2" lengthAdjust="spacingAndGlyphs">9.1</text><text x="95.90" y="174.00" text-anchor="end" textLength="21.2" lengthAdjust="spacingAndGlyphs">9.0</text><text x="95.90" y="201.00" text-anchor="end" textLength="21.2" lengthAdjust="spacingAndGlyphs">8.8</text><text x="95.90" y="227.00" text-anchor="end" textLength="21.2" lengthAdjust="spacingAndGlyphs">8.7</text><text x="95.90" y="254.00" text-anchor="end" textLength="21.2" lengthAdjust="spacingAndGlyphs">8.6</text><text x="95.90" y="281.00" text-anchor="end" textLength="21.2" lengthAdjust="spacingAndGlyphs">8.5</text><text x="95.90" y="308.00" text-anchor="end" textLength="21.2" lengthAdjust="spacingAndGlyphs">8.3</text><text x="95.90" y="335.00" text-anchor="end" textLength="21.2" lengthAdjust="spacingAndGlyphs">8.2</text><text x="95.90" y="362.00" text-anchor="end" textLength="21.2" lengthAdjust="spacingAndGlyphs">8.1</text><text x="95.90" y="389.00" text-anchor="end" textLength="21.2" lengthAdjust="spacingAndGlyphs">7.9</text><text x="95.90" y="416.00" text-anchor="end" textLength="21.2" lengthAdjust="spacingAndGlyphs">7.8</text><text x="95.90" y="443.00" text-anchor="end" textLength="21.2" lengthAdjust="spacingAndGlyphs">7.7</text><text x="95.90" y="470.00" text-anchor="end" textLength="21.2" lengthAdjust="spacingAndGlyphs">7.5</text><text x="95.90" y="497.00" text-anchor="end" textLength="21.2" lengthAdjust="spacingAndGlyphs">7.4</text><text x="95.90" y="524.00" text-anchor="end" textLength="21.2" lengthAdjust="spacingAndGlyphs">7.3</text><text x="95.90" y="551.00" text-anchor="end" textLength="21.2" lengthAdjust="spacingAndGlyphs">7.2</text><text x="95.90" y="578.00" text-anchor="end" textLength="21.2" lengthAdjust="spacingAndGlyphs">7.0</text><text x="95.90" y="605.00" text-anchor="end" textLength="21.2" lengthAdjust="spacingAndGlyphs">6.9</text><text x="95.90" y="632.00" text-anchor="end" textLength="21.2" lengthAdjust="spacingAndGlyphs">6.8</text><text x="388.50" y="665.9" text-anchor="middle" textLength="8.6" lengthAdjust="spacingAndGlyphs">X</text><text transform="translate(65.20 357.00) rotate(-90)" x="0" y="0" text-anchor="middle">Y</text></g>
<text x="192.80" y="77.95" font-size="20.3" textLength="389.40" lengthAdjust="spacingAndGlyphs">Площадь обучающего множества |Xt|</text>
<rect x="115.40" y="95.25" width="266.20" height="31.80" rx="4.2" ry="4.2" fill="#fff" fill-opacity="0.8" stroke="#cccccc" stroke-width="1.1"/><circle cx="138.6" cy="112.4" r="3.1" fill="#4b0082"/><text x="167.4" y="115.8" font-size="17.4" textLength="207.20" lengthAdjust="spacingAndGlyphs">Обучающее множество</text>
<g fill="#fdcbb7"><rect x="1093.5" y="275.5" width="56" height="27"/><rect x="1036.5" y="302.5" width="169" height="27"/><rect x="1008.5" y="329.5" width="226" height="27"/><rect x="1008.5" y="356.5" width="226" height="27"/><rect x="1008.5" y="383.5" width="226" height="27"/><rect x="1008.5" y="410.5" width="226" height="27"/><rect x="1008.5" y="437.5" width="226" height="27"/><rect x="1008.5" y="464.5" width="226" height="27"/><rect x="1008.5" y="491.5" width="226" height="27"/><rect x="1008.5" y="518.5" width="226" height="27"/><rect x="1036.5" y="545.5" width="169" height="27"/><rect x="1065.5" y="572.5" width="112" height="27"/></g>
<g fill="#0000ff"><circle cx="1116" cy="295" r="2.95"/><circle cx="1122" cy="295" r="2.95"/><circle cx="1127" cy="295" r="2.95"/><circle cx="1133" cy="295" r="2.95"/><circle cx="1093" cy="303" r="2.95"/><circle cx="1099" cy="303" r="2.95"/><circle cx="1105" cy="303" r="2.95"/><circle cx="1110" cy="303" r="2.95"/><circle cx="1116" cy="303" r="2.95"/><circle cx="1122" cy="303" r="2.95"/><circle cx="1127" cy="303" r="2.95"/><circle cx="1133" cy="303" r="2.95"/><circle cx="1139" cy="303" r="2.95"/><circle cx="1144" cy="303" r="2.95"/><circle cx="1150" cy="303" r="2.95"/><circle cx="1156" cy="303" r="2.95"/><circle cx="1161" cy="303" r="2.95"/><circle cx="1076" cy="310" r="2.95"/><circle cx="1082" cy="310" r="2.95"/><circle cx="1088" cy="310" r="2.95"/><circle cx="1093" cy="310" r="2.95"/><circle cx="1099" cy="310" r="2.95"/><circle cx="1105" cy="310" r="2.95"/><circle cx="1110" cy="310" r="2.95"/><circle cx="1116" cy="310" r="2.95"/><circle cx="1122" cy="310" r="2.95"/><circle cx="1127" cy="310" r="2.95"/><circle cx="1133" cy="310" r="2.95"/><circle cx="1139" cy="310" r="2.95"/><circle cx="1144" cy="310" r="2.95"/><circle cx="1150" cy="310" r="2.95"/><circle cx="1156" cy="310" r="2.95"/><circle cx="1161" cy="310" r="2.95"/><circle cx="1167" cy="310" r="2.95"/><circle cx="1173" cy="310" r="2.95"/><circle cx="1071" cy="318" r="2.95"/><circle cx="1076" cy="318" r="2.95"/><circle cx="1082" cy="318" r="2.95"/><circle cx="1088" cy="318" r="2.95"/><circle cx="1093" cy="318" r="2.95"/><circle cx="1099" cy="318" r="2.95"/><circle cx="1105" cy="318" r="2.95"/><circle cx="1110" cy="318" r="2.95"/><circle cx="1116" cy="318" r="2.95"/><circle cx="1122" cy="318" r="2.95"/><circle cx="1127" cy="318" r="2.95"/><circle cx="1133" cy="318" r="2.95"/><circle cx="1139" cy="318" r="2.95"/><circle cx="1144" cy="318" r="2.95"/><circle cx="1150" cy="318" r="2.95"/><circle cx="1156" cy="318" r="2.95"/><circle cx="1161" cy="318" r="2.95"/><circle cx="1167" cy="318" r="2.95"/><circle cx="1173" cy="318" r="2.95"/><circle cx="1178" cy="318" r="2.95"/><circle cx="1184" cy="318" r="2.95"/><circle cx="1059" cy="325" r="2.95"/><circle cx="1065" cy="325" r="2.95"/><circle cx="1071" cy="325" r="2.95"/><circle cx="1076" cy="325" r="2.95"/><circle cx="1082" cy="325" r="2.95"/><circle cx="1088" cy="325" r="2.95"/><circle cx="1093" cy="325" r="2.95"/><circle cx="1099" cy="325" r="2.95"/><circle cx="1105" cy="325" r="2.95"/><circle cx="1110" cy="325" r="2.95"/><circle cx="1116" cy="325" r="2.95"/><circle cx="1122" cy="325" r="2.95"/><circle cx="1127" cy="325" r="2.95"/><circle cx="1133" cy="325" r="2.95"/><circle cx="1139" cy="325" r="2.95"/><circle cx="1144" cy="325" r="2.95"/><circle cx="1150" cy="325" r="2.95"/><circle cx="1156" cy="325" r="2.95"/><circle cx="1161" cy="325" r="2.95"/><circle cx="1167" cy="325" r="2.95"/><circle cx="1173" cy="325" r="2.95"/><circle cx="1178" cy="325" r="2.95"/><circle cx="1184" cy="325" r="2.95"/><circle cx="1190" cy="325" r="2.95"/><circle cx="1054" cy="333" r="2.95"/><circle cx="1059" cy="333" r="2.95"/><circle cx="1065" cy="333" r="2.95"/><circle cx="1071" cy="333" r="2.95"/><circle cx="1076" cy="333" r="2.95"/><circle cx="1082" cy="333" r="2.95"/><circle cx="1088" cy="333" r="2.95"/><circle cx="1093" cy="333" r="2.95"/><circle cx="1099" cy="333" r="2.95"/><circle cx="1105" cy="333" r="2.95"/><circle cx="1110" cy="333" r="2.95"/><circle cx="1116" cy="333" r="2.95"/><circle cx="1122" cy="333" r="2.95"/><circle cx="1127" cy="333" r="2.95"/><circle cx="1133" cy="333" r="2.95"/><circle cx="1139" cy="333" r="2.95"/><circle cx="1144" cy="333" r="2.95"/><circle cx="1150" cy="333" r="2.95"/><circle cx="1156" cy="333" r="2.95"/><circle cx="1161" cy="333" r="2.95"/><circle cx="1167" cy="333" r="2.95"/><circle cx="1173" cy="333" r="2.95"/><circle cx="1178" cy="333" r="2.95"/><circle cx="1184" cy="333" r="2.95"/><circle cx="1190" cy="333" r="2.95"/><circle cx="1195" cy="333" r="2.95"/><circle cx="1048" cy="340" r="2.95"/><circle cx="1054" cy="340" r="2.95"/><circle cx="1059" cy="340" r="2.95"/><circle cx="1065" cy="340" r="2.95"/><circle cx="1071" cy="340" r="2.95"/><circle cx="1076" cy="340" r="2.95"/><circle cx="1082" cy="340" r="2.95"/><circle cx="1088" cy="340" r="2.95"/><circle cx="1093" cy="340" r="2.95"/><circle cx="1099" cy="340" r="2.95"/><circle cx="1105" cy="340" r="2.95"/><circle cx="1110" cy="340" r="2.95"/><circle cx="1116" cy="340" r="2.95"/><circle cx="1122" cy="340" r="2.95"/><circle cx="1127" cy="340" r="2.95"/><circle cx="1133" cy="340" r="2.95"/><circle cx="1139" cy="340" r="2.95"/><circle cx="1144" cy="340" r="2.95"/><circle cx="1150" cy="340" r="2.95"/><circle cx="1156" cy="340" r="2.95"/><circle cx="1161" cy="340" r="2.95"/><circle cx="1167" cy="340" r="2.95"/><circle cx="1173" cy="340" r="2.95"/><circle cx="1178" cy="340" r="2.95"/><circle cx="1184" cy="340" r="2.95"/><circle cx="1190" cy="340" r="2.95"/><circle cx="1195" cy="340" r="2.95"/><circle cx="1201" cy="340" r="2.95"/><circle cx="1207" cy="340" r="2.95"/><circle cx="1042" cy="348" r="2.95"/><circle cx="1048" cy="348" r="2.95"/><circle cx="1054" cy="348" r="2.95"/><circle cx="1059" cy="348" r="2.95"/><circle cx="1065" cy="348" r="2.95"/><circle cx="1071" cy="348" r="2.95"/><circle cx="1076" cy="348" r="2.95"/><circle cx="1082" cy="348" r="2.95"/><circle cx="1088" cy="348" r="2.95"/><circle cx="1093" cy="348" r="2.95"/><circle cx="1099" cy="348" r="2.95"/><circle cx="1105" cy="348" r="2.95"/><circle cx="1110" cy="348" r="2.95"/><circle cx="1116" cy="348" r="2.95"/><circle cx="1122" cy="348" r="2.95"/><circle cx="1127" cy="348" r="2.95"/><circle cx="1133" cy="348" r="2.95"/><circle cx="1139" cy="348" r="2.95"/><circle cx="1144" cy="348" r="2.95"/><circle cx="1150" cy="348" r="2.95"/><circle cx="1156" cy="348" r="2.95"/><circle cx="1161" cy="348" r="2.95"/><circle cx="1167" cy="348" r="2.95"/><circle cx="1173" cy="348" r="2.95"/><circle cx="1178" cy="348" r="2.95"/><circle cx="1184" cy="348" r="2.95"/><circle cx="1190" cy="348" r="2.95"/><circle cx="1195" cy="348" r="2.95"/><circle cx="1201" cy="348" r="2.95"/><circle cx="1207" cy="348" r="2.95"/><circle cx="1037" cy="355" r="2.95"/><circle cx="1042" cy="355" r="2.95"/><circle cx="1048" cy="355" r="2.95"/><circle cx="1054" cy="355" r="2.95"/><circle cx="1059" cy="355" r="2.95"/><circle cx="1065" cy="355" r="2.95"/><circle cx="1071" cy="355" r="2.95"/><circle cx="1076" cy="355" r="2.95"/><circle cx="1082" cy="355" r="2.95"/><circle cx="1088" cy="355" r="2.95"/><circle cx="1093" cy="355" r="2.95"/><circle cx="1099" cy="355" r="2.95"/><circle cx="1105" cy="355" r="2.95"/><circle cx="1110" cy="355" r="2.95"/><circle cx="1116" cy="355" r="2.95"/><circle cx="1122" cy="355" r="2.95"/><circle cx="1127" cy="355" r="2.95"/><circle cx="1133" cy="355" r="2.95"/><circle cx="1139" cy="355" r="2.95"/><circle cx="1144" cy="355" r="2.95"/><circle cx="1150" cy="355" r="2.95"/><circle cx="1156" cy="355" r="2.95"/><circle cx="1161" cy="355" r="2.95"/><circle cx="1167" cy="355" r="2.95"/><circle cx="1173" cy="355" r="2.95"/><circle cx="1178" cy="355" r="2.95"/><circle cx="1184" cy="355" r="2.95"/><circle cx="1190" cy="355" r="2.95"/><circle cx="1195" cy="355" r="2.95"/><circle cx="1201" cy="355" r="2.95"/><circle cx="1207" cy="355" r="2.95"/><circle cx="1212" cy="355" r="2.95"/><circle cx="1037" cy="363" r="2.95"/><circle cx="1042" cy="363" r="2.95"/><circle cx="1048" cy="363" r="2.95"/><circle cx="1054" cy="363" r="2.95"/><circle cx="1059" cy="363" r="2.95"/><circle cx="1065" cy="363" r="2.95"/><circle cx="1071" cy="363" r="2.95"/><circle cx="1076" cy="363" r="2.95"/><circle cx="1082" cy="363" r="2.95"/><circle cx="1088" cy="363" r="2.95"/><circle cx="1093" cy="363" r="2.95"/><circle cx="1099" cy="363" r="2.95"/><circle cx="1105" cy="363" r="2.95"/><circle cx="1110" cy="363" r="2.95"/><circle cx="1116" cy="363" r="2.95"/><circle cx="1122" cy="363" r="2.95"/><circle cx="1127" cy="363" r="2.95"/><circle cx="1133" cy="363" r="2.95"/><circle cx="1139" cy="363" r="2.95"/><circle cx="1144" cy="363" r="2.95"/><circle cx="1150" cy="363" r="2.95"/><circle cx="1156" cy="363" r="2.95"/><circle cx="1161" cy="363" r="2.95"/><circle cx="1167" cy="363" r="2.95"/><circle cx="1173" cy="363" r="2.95"/><circle cx="1178" cy="363" r="2.95"/><circle cx="1184" cy="363" r="2.95"/><circle cx="1190" cy="363" r="2.95"/><circle cx="1195" cy="363" r="2.95"/><circle cx="1201" cy="363" r="2.95"/><circle cx="1207" cy="363" r="2.95"/><circle cx="1212" cy="363" r="2.95"/><circle cx="1218" cy="363" r="2.95"/><circle cx="1031" cy="371" r="2.95"/><circle cx="1037" cy="371" r="2.95"/><circle cx="1042" cy="371" r="2.95"/><circle cx="1048" cy="371" r="2.95"/><circle cx="1054" cy="371" r="2.95"/><circle cx="1059" cy="371" r="2.95"/><circle cx="1065" cy="371" r="2.95"/><circle cx="1071" cy="371" r="2.95"/><circle cx="1076" cy="371" r="2.95"/><circle cx="1082" cy="371" r="2.95"/><circle cx="1088" cy="371" r="2.95"/><circle cx="1093" cy="371" r="2.95"/><circle cx="1099" cy="371" r="2.95"/><circle cx="1105" cy="371" r="2.95"/><circle cx="1110" cy="371" r="2.95"/><circle cx="1116" cy="371" r="2.95"/><circle cx="1122" cy="371" r="2.95"/><circle cx="1127" cy="371" r="2.95"/><circle cx="1133" cy="371" r="2.95"/><circle cx="1139" cy="371" r="2.95"/><circle cx="1144" cy="371" r="2.95"/><circle cx="1150" cy="371" r="2.95"/><circle cx="1156" cy="371" r="2.95"/><circle cx="1161" cy="371" r="2.95"/><circle cx="1167" cy="371" r="2.95"/><circle cx="1173" cy="371" r="2.95"/><circle cx="1178" cy="371" r="2.95"/><circle cx="1184" cy="371" r="2.95"/><circle cx="1190" cy="371" r="2.95"/><circle cx="1195" cy="371" r="2.95"/><circle cx="1201" cy="371" r="2.95"/><circle cx="1207" cy="371" r="2.95"/><circle cx="1212" cy="371" r="2.95"/><circle cx="1218" cy="371" r="2.95"/><circle cx="1025" cy="378" r="2.95"/><circle cx="1031" cy="378" r="2.95"/><circle cx="1037" cy="378" r="2.95"/><circle cx="1042" cy="378" r="2.95"/><circle cx="1048" cy="378" r="2.95"/><circle cx="1054" cy="378" r="2.95"/><circle cx="1059" cy="378" r="2.95"/><circle cx="1065" cy="378" r="2.95"/><circle cx="1071" cy="378" r="2.95"/><circle cx="1076" cy="378" r="2.95"/><circle cx="1082" cy="378" r="2.95"/><circle cx="1088" cy="378" r="2.95"/><circle cx="1093" cy="378" r="2.95"/><circle cx="1099" cy="378" r="2.95"/><circle cx="1105" cy="378" r="2.95"/><circle cx="1110" cy="378" r="2.95"/><circle cx="1116" cy="378" r="2.95"/><circle cx="1122" cy="378" r="2.95"/><circle cx="1127" cy="378" r="2.95"/><circle cx="1133" cy="378" r="2.95"/><circle cx="1139" cy="378" r="2.95"/><circle cx="1144" cy="378" r="2.95"/><circle cx="1150" cy="378" r="2.95"/><circle cx="1156" cy="378" r="2.95"/><circle cx="1161" cy="378" r="2.95"/><circle cx="1167" cy="378" r="2.95"/><circle cx="1173" cy="378" r="2.95"/><circle cx="1178" cy="378" r="2.95"/><circle cx="1184" cy="378" r="2.95"/><circle cx="1190" cy="378" r="2.95"/><circle cx="1195" cy="378" r="2.95"/><circle cx="1201" cy="378" r="2.95"/><circle cx="1207" cy="378" r="2.95"/><circle cx="1212" cy="378" r="2.95"/><circle cx="1218" cy="378" r="2.95"/><circle cx="1224" cy="378" r="2.95"/><circle cx="1025" cy="386" r="2.95"/><circle cx="1031" cy="386" r="2.95"/><circle cx="1037" cy="386" r="2.95"/><circle cx="1042" cy="386" r="2.95"/><circle cx="1048" cy="386" r="2.95"/><circle cx="1054" cy="386" r="2.95"/><circle cx="1059" cy="386" r="2.95"/><circle cx="1065" cy="386" r="2.95"/><circle cx="1071" cy="386" r="2.95"/><circle cx="1076" cy="386" r="2.95"/><circle cx="1082" cy="386" r="2.95"/><circle cx="1088" cy="386" r="2.95"/><circle cx="1093" cy="386" r="2.95"/><circle cx="1099" cy="386" r="2.95"/><circle cx="1105" cy="386" r="2.95"/><circle cx="1110" cy="386" r="2.95"/><circle cx="1116" cy="386" r="2.95"/><circle cx="1122" cy="386" r="2.95"/><circle cx="1127" cy="386" r="2.95"/><circle cx="1133" cy="386" r="2.95"/><circle cx="1139" cy="386" r="2.95"/><circle cx="1144" cy="386" r="2.95"/><circle cx="1150" cy="386" r="2.95"/><circle cx="1156" cy="386" r="2.95"/><circle cx="1161" cy="386" r="2.95"/><circle cx="1167" cy="386" r="2.95"/><circle cx="1173" cy="386" r="2.95"/><circle cx="1178" cy="386" r="2.95"/><circle cx="1184" cy="386" r="2.95"/><circle cx="1190" cy="386" r="2.95"/><circle cx="1195" cy="386" r="2.95"/><circle cx="1201" cy="386" r="2.95"/><circle cx="1207" cy="386" r="2.95"/><circle cx="1212" cy="386" r="2.95"/><circle cx="1218" cy="386" r="2.95"/><circle cx="1224" cy="386" r="2.95"/><circle cx="1025" cy="393" r="2.95"/><circle cx="1031" cy="393" r="2.95"/><circle cx="1037" cy="393" r="2.95"/><circle cx="1042" cy="393" r="2.95"/><circle cx="1048" cy="393" r="2.95"/><circle cx="1054" cy="393" r="2.95"/><circle cx="1059" cy="393" r="2.95"/><circle cx="1065" cy="393" r="2.95"/><circle cx="1071" cy="393" r="2.95"/><circle cx="1076" cy="393" r="2.95"/><circle cx="1082" cy="393" r="2.95"/><circle cx="1088" cy="393" r="2.95"/><circle cx="1093" cy="393" r="2.95"/><circle cx="1099" cy="393" r="2.95"/><circle cx="1105" cy="393" r="2.95"/><circle cx="1110" cy="393" r="2.95"/><circle cx="1116" cy="393" r="2.95"/><circle cx="1122" cy="393" r="2.95"/><circle cx="1127" cy="393" r="2.95"/><circle cx="1133" cy="393" r="2.95"/><circle cx="1139" cy="393" r="2.95"/><circle cx="1144" cy="393" r="2.95"/><circle cx="1150" cy="393" r="2.95"/><circle cx="1156" cy="393" r="2.95"/><circle cx="1161" cy="393" r="2.95"/><circle cx="1167" cy="393" r="2.95"/><circle cx="1173" cy="393" r="2.95"/><circle cx="1178" cy="393" r="2.95"/><circle cx="1184" cy="393" r="2.95"/><circle cx="1190" cy="393" r="2.95"/><circle cx="1195" cy="393" r="2.95"/><circle cx="1201" cy="393" r="2.95"/><circle cx="1207" cy="393" r="2.95"/><circle cx="1212" cy="393" r="2.95"/><circle cx="1218" cy="393" r="2.95"/><circle cx="1224" cy="393" r="2.95"/><circle cx="1229" cy="393" r="2.95"/><circle cx="1020" cy="401" r="2.95"/><circle cx="1025" cy="401" r="2.95"/><circle cx="1031" cy="401" r="2.95"/><circle cx="1037" cy="401" r="2.95"/><circle cx="1042" cy="401" r="2.95"/><circle cx="1048" cy="401" r="2.95"/><circle cx="1054" cy="401" r="2.95"/><circle cx="1059" cy="401" r="2.95"/><circle cx="1065" cy="401" r="2.95"/><circle cx="1071" cy="401" r="2.95"/><circle cx="1076" cy="401" r="2.95"/><circle cx="1082" cy="401" r="2.95"/><circle cx="1088" cy="401" r="2.95"/><circle cx="1093" cy="401" r="2.95"/><circle cx="1099" cy="401" r="2.95"/><circle cx="1105" cy="401" r="2.95"/><circle cx="1110" cy="401" r="2.95"/><circle cx="1116" cy="401" r="2.95"/><circle cx="1122" cy="401" r="2.95"/><circle cx="1127" cy="401" r="2.95"/><circle cx="1133" cy="401" r="2.95"/><circle cx="1139" cy="401" r="2.95"/><circle cx="1144" cy="401" r="2.95"/><circle cx="1150" cy="401" r="2.95"/><circle cx="1156" cy="401" r="2.95"/><circle cx="1161" cy="401" r="2.95"/><circle cx="1167" cy="401" r="2.95"/><circle cx="1173" cy="401" r="2.95"/><circle cx="1178" cy="401" r="2.95"/><circle cx="1184" cy="401" r="2.95"/><circle cx="1190" cy="401" r="2.95"/><circle cx="1195" cy="401" r="2.95"/><circle cx="1201" cy="401" r="2.95"/><circle cx="1207" cy="401" r="2.95"/><circle cx="1212" cy="401" r="2.95"/><circle cx="1218" cy="401" r="2.95"/><circle cx="1224" cy="401" r="2.95"/><circle cx="1229" cy="401" r="2.95"/><circle cx="1020" cy="408" r="2.95"/><circle cx="1025" cy="408" r="2.95"/><circle cx="1031" cy="408" r="2.95"/><circle cx="1037" cy="408" r="2.95"/><circle cx="1042" cy="408" r="2.95"/><circle cx="1048" cy="408" r="2.95"/><circle cx="1054" cy="408" r="2.95"/><circle cx="1059" cy="408" r="2.95"/><circle cx="1065" cy="408" r="2.95"/><circle cx="1071" cy="408" r="2.95"/><circle cx="1076" cy="408" r="2.95"/><circle cx="1082" cy="408" r="2.95"/><circle cx="1088" cy="408" r="2.95"/><circle cx="1093" cy="408" r="2.95"/><circle cx="1099" cy="408" r="2.95"/><circle cx="1105" cy="408" r="2.95"/><circle cx="1110" cy="408" r="2.95"/><circle cx="1116" cy="408" r="2.95"/><circle cx="1122" cy="408" r="2.95"/><circle cx="1127" cy="408" r="2.95"/><circle cx="1133" cy="408" r="2.95"/><circle cx="1139" cy="408" r="2.95"/><circle cx="1144" cy="408" r="2.95"/><circle cx="1150" cy="408" r="2.95"/><circle cx="1156" cy="408" r="2.95"/><circle cx="1161" cy="408" r="2.95"/><circle cx="1167" cy="408" r="2.95"/><circle cx="1173" cy="408" r="2.95"/><circle cx="1178" cy="408" r="2.95"/><circle cx="1184" cy="408" r="2.95"/><circle cx="1190" cy="408" r="2.95"/><circle cx="1195" cy="408" r="2.95"/><circle cx="1201" cy="408" r="2.95"/><circle cx="1207" cy="408" r="2.95"/><circle cx="1212" cy="408" r="2.95"/><circle cx="1218" cy="408" r="2.95"/><circle cx="1224" cy="408" r="2.95"/><circle cx="1229" cy="408" r="2.95"/><circle cx="1020" cy="416" r="2.95"/><circle cx="1025" cy="416" r="2.95"/><circle cx="1031" cy="416" r="2.95"/><circle cx="1037" cy="416" r="2.95"/><circle cx="1042" cy="416" r="2.95"/><circle cx="1048" cy="416" r="2.95"/><circle cx="1054" cy="416" r="2.95"/><circle cx="1059" cy="416" r="2.95"/><circle cx="1065" cy="416" r="2.95"/><circle cx="1071" cy="416" r="2.95"/><circle cx="1076" cy="416" r="2.95"/><circle cx="1082" cy="416" r="2.95"/><circle cx="1088" cy="416" r="2.95"/><circle cx="1093" cy="416" r="2.95"/><circle cx="1099" cy="416" r="2.95"/><circle cx="1105" cy="416" r="2.95"/><circle cx="1110" cy="416" r="2.95"/><circle cx="1116" cy="416" r="2.95"/><circle cx="1122" cy="416" r="2.95"/><circle cx="1127" cy="416" r="2.95"/><circle cx="1133" cy="416" r="2.95"/><circle cx="1139" cy="416" r="2.95"/><circle cx="1144" cy="416" r="2.95"/><circle cx="1150" cy="416" r="2.95"/><circle cx="1156" cy="416" r="2.95"/><circle cx="1161" cy="416" r="2.95"/><circle cx="1167" cy="416" r="2.95"/><circle cx="1173" cy="416" r="2.95"/><circle cx="1178" cy="416" r="2.95"/><circle cx="1184" cy="416" r="2.95"/><circle cx="1190" cy="416" r="2.95"/><circle cx="1195" cy="416" r="2.95"/><circle cx="1201" cy="416" r="2.95"/><circle cx="1207" cy="416" r="2.95"/><circle cx="1212" cy="416" r="2.95"/><circle cx="1218" cy="416" r="2.95"/><circle cx="1224" cy="416" r="2.95"/><circle cx="1229" cy="416" r="2.95"/><circle cx="1235" cy="416" r="2.95"/><circle cx="1020" cy="423" r="2.95"/><circle cx="1025" cy="423" r="2.95"/><circle cx="1031" cy="423" r="2.95"/><circle cx="1037" cy="423" r="2.95"/><circle cx="1042" cy="423" r="2.95"/><circle cx="1048" cy="423" r="2.95"/><circle cx="1054" cy="423" r="2.95"/><circle cx="1059" cy="423" r="2.95"/><circle cx="1065" cy="423" r="2.95"/><circle cx="1071" cy="423" r="2.95"/><circle cx="1076" cy="423" r="2.95"/><circle cx="1082" cy="423" r="2.95"/><circle cx="1088" cy="423" r="2.95"/><circle cx="1093" cy="423" r="2.95"/><circle cx="1099" cy="423" r="2.95"/><circle cx="1105" cy="423" r="2.95"/><circle cx="1110" cy="423" r="2.95"/><circle cx="1116" cy="423" r="2.95"/><circle cx="1122" cy="423" r="2.95"/><circle cx="1127" cy="423" r="2.95"/><circle cx="1133" cy="423" r="2.95"/><circle cx="1139" cy="423" r="2.95"/><circle cx="1144" cy="423" r="2.95"/><circle cx="1150" cy="423" r="2.95"/><circle cx="1156" cy="423" r="2.95"/><circle cx="1161" cy="423" r="2.95"/><circle cx="1167" cy="423" r="2.95"/><circle cx="1173" cy="423" r="2.95"/><circle cx="1178" cy="423" r="2.95"/><circle cx="1184" cy="423" r="2.95"/><circle cx="1190" cy="423" r="2.95"/><circle cx="1195" cy="423" r="2.95"/><circle cx="1201" cy="423" r="2.95"/><circle cx="1207" cy="423" r="2.95"/><circle cx="1212" cy="423" r="2.95"/><circle cx="1218" cy="423" r="2.95"/><circle cx="1224" cy="423" r="2.95"/><circle cx="1229" cy="423" r="2.95"/><circle cx="1235" cy="423" r="2.95"/><circle cx="1014" cy="431" r="2.95"/><circle cx="1020" cy="431" r="2.95"/><circle cx="1025" cy="431" r="2.95"/><circle cx="1031" cy="431" r="2.95"/><circle cx="1037" cy="431" r="2.95"/><circle cx="1042" cy="431" r="2.95"/><circle cx="1048" cy="431" r="2.95"/><circle cx="1054" cy="431" r="2.95"/><circle cx="1059" cy="431" r="2.95"/><circle cx="1065" cy="431" r="2.95"/><circle cx="1071" cy="431" r="2.95"/><circle cx="1076" cy="431" r="2.95"/><circle cx="1082" cy="431" r="2.95"/><circle cx="1088" cy="431" r="2.95"/><circle cx="1093" cy="431" r="2.95"/><circle cx="1099" cy="431" r="2.95"/><circle cx="1105" cy="431" r="2.95"/><circle cx="1110" cy="431" r="2.95"/><circle cx="1116" cy="431" r="2.95"/><circle cx="1122" cy="431" r="2.95"/><circle cx="1127" cy="431" r="2.95"/><circle cx="1133" cy="431" r="2.95"/><circle cx="1139" cy="431" r="2.95"/><circle cx="1144" cy="431" r="2.95"/><circle cx="1150" cy="431" r="2.95"/><circle cx="1156" cy="431" r="2.95"/><circle cx="1161" cy="431" r="2.95"/><circle cx="1167" cy="431" r="2.95"/><circle cx="1173" cy="431" r="2.95"/><circle cx="1178" cy="431" r="2.95"/><circle cx="1184" cy="431" r="2.95"/><circle cx="1190" cy="431" r="2.95"/><circle cx="1195" cy="431" r="2.95"/><circle cx="1201" cy="431" r="2.95"/><circle cx="1207" cy="431" r="2.95"/><circle cx="1212" cy="431" r="2.95"/><circle cx="1218" cy="431" r="2.95"/><circle cx="1224" cy="431" r="2.95"/><circle cx="1229" cy="431" r="2.95"/><circle cx="1235" cy="431" r="2.95"/><circle cx="1014" cy="438" r="2.95"/><circle cx="1020" cy="438" r="2.95"/><circle cx="1025" cy="438" r="2.95"/><circle cx="1031" cy="438" r="2.95"/><circle cx="1037" cy="438" r="2.95"/><circle cx="1042" cy="438" r="2.95"/><circle cx="1048" cy="438" r="2.95"/><circle cx="1054" cy="438" r="2.95"/><circle cx="1059" cy="438" r="2.95"/><circle cx="1065" cy="438" r="2.95"/><circle cx="1071" cy="438" r="2.95"/><circle cx="1076" cy="438" r="2.95"/><circle cx="1082" cy="438" r="2.95"/><circle cx="1088" cy="438" r="2.95"/><circle cx="1093" cy="438" r="2.95"/><circle cx="1099" cy="438" r="2.95"/><circle cx="1105" cy="438" r="2.95"/><circle cx="1110" cy="438" r="2.95"/><circle cx="1116" cy="438" r="2.95"/><circle cx="1122" cy="438" r="2.95"/><circle cx="1127" cy="438" r="2.95"/><circle cx="1133" cy="438" r="2.95"/><circle cx="1139" cy="438" r="2.95"/><circle cx="1144" cy="438" r="2.95"/><circle cx="1150" cy="438" r="2.95"/><circle cx="1156" cy="438" r="2.95"/><circle cx="1161" cy="438" r="2.95"/><circle cx="1167" cy="438" r="2.95"/><circle cx="1173" cy="438" r="2.95"/><circle cx="1178" cy="438" r="2.95"/><circle cx="1184" cy="438" r="2.95"/><circle cx="1190" cy="438" r="2.95"/><circle cx="1195" cy="438" r="2.95"/><circle cx="1201" cy="438" r="2.95"/><circle cx="1207" cy="438" r="2.95"/><circle cx="1212" cy="438" r="2.95"/><circle cx="1218" cy="438" r="2.95"/><circle cx="1224" cy="438" r="2.95"/><circle cx="1229" cy="438" r="2.95"/><circle cx="1235" cy="438" r="2.95"/><circle cx="1014" cy="446" r="2.95"/><circle cx="1020" cy="446" r="2.95"/><circle cx="1025" cy="446" r="2.95"/><circle cx="1031" cy="446" r="2.95"/><circle cx="1037" cy="446" r="2.95"/><circle cx="1042" cy="446" r="2.95"/><circle cx="1048" cy="446" r="2.95"/><circle cx="1054" cy="446" r="2.95"/><circle cx="1059" cy="446" r="2.95"/><circle cx="1065" cy="446" r="2.95"/><circle cx="1071" cy="446" r="2.95"/><circle cx="1076" cy="446" r="2.95"/><circle cx="1082" cy="446" r="2.95"/><circle cx="1088" cy="446" r="2.95"/><circle cx="1093" cy="446" r="2.95"/><circle cx="1099" cy="446" r="2.95"/><circle cx="1105" cy="446" r="2.95"/><circle cx="1110" cy="446" r="2.95"/><circle cx="1116" cy="446" r="2.95"/><circle cx="1122" cy="446" r="2.95"/><circle cx="1127" cy="446" r="2.95"/><circle cx="1133" cy="446" r="2.95"/><circle cx="1139" cy="446" r="2.95"/><circle cx="1144" cy="446" r="2.95"/><circle cx="1150" cy="446" r="2.95"/><circle cx="1156" cy="446" r="2.95"/><circle cx="1161" cy="446" r="2.95"/><circle cx="1167" cy="446" r="2.95"/><circle cx="1173" cy="446" r="2.95"/><circle cx="1178" cy="446" r="2.95"/><circle cx="1184" cy="446" r="2.95"/><circle cx="1190" cy="446" r="2.95"/><circle cx="1195" cy="446" r="2.95"/><circle cx="1201" cy="446" r="2.95"/><circle cx="1207" cy="446" r="2.95"/><circle cx="1212" cy="446" r="2.95"/><circle cx="1218" cy="446" r="2.95"/><circle cx="1224" cy="446" r="2.95"/><circle cx="1229" cy="446" r="2.95"/><circle cx="1235" cy="446" r="2.95"/><circle cx="1014" cy="453" r="2.95"/><circle cx="1020" cy="453" r="2.95"/><circle cx="1025" cy="453" r="2.95"/><circle cx="1031" cy="453" r="2.95"/><circle cx="1037" cy="453" r="2.95"/><circle cx="1042" cy="453" r="2.95"/><circle cx="1048" cy="453" r="2.95"/><circle cx="1054" cy="453" r="2.95"/><circle cx="1059" cy="453" r="2.95"/><circle cx="1065" cy="453" r="2.95"/><circle cx="1071" cy="453" r="2.95"/><circle cx="1076" cy="453" r="2.95"/><circle cx="1082" cy="453" r="2.95"/><circle cx="1088" cy="453" r="2.95"/><circle cx="1093" cy="453" r="2.95"/><circle cx="1099" cy="453" r="2.95"/><circle cx="1105" cy="453" r="2.95"/><circle cx="1110" cy="453" r="2.95"/><circle cx="1116" cy="453" r="2.95"/><circle cx="1122" cy="453" r="2.95"/><circle cx="1127" cy="453" r="2.95"/><circle cx="1133" cy="453" r="2.95"/><circle cx="1139" cy="453" r="2.95"/><circle cx="1144" cy="453" r="2.95"/><circle cx="1150" cy="453" r="2.95"/><circle cx="1156" cy="453" r="2.95"/><circle cx="1161" cy="453" r="2.95"/><circle cx="1167" cy="453" r="2.95"/><circle cx="1173" cy="453" r="2.95"/><circle cx="1178" cy="453" r="2.95"/><circle cx="1184" cy="453" r="2.95"/><circle cx="1190" cy="453" r="2.95"/><circle cx="1195" cy="453" r="2.95"/><circle cx="1201" cy="453" r="2.95"/><circle cx="1207" cy="453" r="2.95"/><circle cx="1212" cy="453" r="2.95"/><circle cx="1218" cy="453" r="2.95"/><circle cx="1224" cy="453" r="2.95"/><circle cx="1229" cy="453" r="2.95"/><circle cx="1235" cy="453" r="2.95"/><circle cx="1020" cy="461" r="2.95"/><circle cx="1025" cy="461" r="2.95"/><circle cx="1031" cy="461" r="2.95"/><circle cx="1037" cy="461" r="2.95"/><circle cx="1042" cy="461" r="2.95"/><circle cx="1048" cy="461" r="2.95"/><circle cx="1054" cy="461" r="2.95"/><circle cx="1059" cy="461" r="2.95"/><circle cx="1065" cy="461" r="2.95"/><circle cx="1071" cy="461" r="2.95"/><circle cx="1076" cy="461" r="2.95"/><circle cx="1082" cy="461" r="2.95"/><circle cx="1088" cy="461" r="2.95"/><circle cx="1093" cy="461" r="2.95"/><circle cx="1099" cy="461" r="2.95"/><circle cx="1105" cy="461" r="2.95"/><circle cx="1110" cy="461" r="2.95"/><circle cx="1116" cy="461" r="2.95"/><circle cx="1122" cy="461" r="2.95"/><circle cx="1127" cy="461" r="2.95"/><circle cx="1133" cy="461" r="2.95"/><circle cx="1139" cy="461" r="2.95"/><circle cx="1144" cy="461" r="2.95"/><circle cx="1150" cy="461" r="2.95"/><circle cx="1156" cy="461" r="2.95"/><circle cx="1161" cy="461" r="2.95"/><circle cx="1167" cy="461" r="2.95"/><circle cx="1173" cy="461" r="2.95"/><circle cx="1178" cy="461" r="2.95"/><circle cx="1184" cy="461" r="2.95"/><circle cx="1190" cy="461" r="2.95"/><circle cx="1195" cy="461" r="2.95"/><circle cx="1201" cy="461" r="2.95"/><circle cx="1207" cy="461" r="2.95"/><circle cx="1212" cy="461" r="2.95"/><circle cx="1218" cy="461" r="2.95"/><circle cx="1224" cy="461" r="2.95"/><circle cx="1229" cy="461" r="2.95"/><circle cx="1235" cy="461" r="2.95"/><circle cx="1020" cy="468" r="2.95"/><circle cx="1025" cy="468" r="2.95"/><circle cx="1031" cy="468" r="2.95"/><circle cx="1037" cy="468" r="2.95"/><circle cx="1042" cy="468" r="2.95"/><circle cx="1048" cy="468" r="2.95"/><circle cx="1054" cy="468" r="2.95"/><circle cx="1059" cy="468" r="2.95"/><circle cx="1065" cy="468" r="2.95"/><circle cx="1071" cy="468" r="2.95"/><circle cx="1076" cy="468" r="2.95"/><circle cx="1082" cy="468" r="2.95"/><circle cx="1088" cy="468" r="2.95"/><circle cx="1093" cy="468" r="2.95"/><circle cx="1099" cy="468" r="2.95"/><circle cx="1105" cy="468" r="2.95"/><circle cx="1110" cy="468" r="2.95"/><circle cx="1116" cy="468" r="2.95"/><circle cx="1122" cy="468" r="2.95"/><circle cx="1127" cy="468" r="2.95"/><circle cx="1133" cy="468" r="2.95"/><circle cx="1139" cy="468" r="2.95"/><circle cx="1144" cy="468" r="2.95"/><circle cx="1150" cy="468" r="2.95"/><circle cx="1156" cy="468" r="2.95"/><circle cx="1161" cy="468" r="2.95"/><circle cx="1167" cy="468" r="2.95"/><circle cx="1173" cy="468" r="2.95"/><circle cx="1178" cy="468" r="2.95"/><circle cx="1184" cy="468" r="2.95"/><circle cx="1190" cy="468" r="2.95"/><circle cx="1195" cy="468" r="2.95"/><circle cx="1201" cy="468" r="2.95"/><circle cx="1207" cy="468" r="2.95"/><circle cx="1212" cy="468" r="2.95"/><circle cx="1218" cy="468" r="2.95"/><circle cx="1224" cy="468" r="2.95"/><circle cx="1229" cy="468" r="2.95"/><circle cx="1235" cy="468" r="2.95"/><circle cx="1020" cy="476" r="2.95"/><circle cx="1025" cy="476" r="2.95"/><circle cx="1031" cy="476" r="2.95"/><circle cx="1037" cy="476" r="2.95"/><circle cx="1042" cy="476" r="2.95"/><circle cx="1048" cy="476" r="2.95"/><circle cx="1054" cy="476" r="2.95"/><circle cx="1059" cy="476" r="2.95"/><circle cx="1065" cy="476" r="2.95"/><circle cx="1071" cy="476" r="2.95"/><circle cx="1076" cy="476" r="2.95"/><circle cx="1082" cy="476" r="2.95"/><circle cx="1088" cy="476" r="2.95"/><circle cx="1093" cy="476" r="2.95"/><circle cx="1099" cy="476" r="2.95"/><circle cx="1105" cy="476" r="2.95"/><circle cx="1110" cy="476" r="2.95"/><circle cx="1116" cy="476" r="2.95"/><circle cx="1122" cy="476" r="2.95"/><circle cx="1127" cy="476" r="2.95"/><circle cx="1133" cy="476" r="2.95"/><circle cx="1139" cy="476" r="2.95"/><circle cx="1144" cy="476" r="2.95"/><circle cx="1150" cy="476" r="2.95"/><circle cx="1156" cy="476" r="2.95"/><circle cx="1161" cy="476" r="2.95"/><circle cx="1167" cy="476" r="2.95"/><circle cx="1173" cy="476" r="2.95"/><circle cx="1178" cy="476" r="2.95"/><circle cx="1184" cy="476" r="2.95"/><circle cx="1190" cy="476" r="2.95"/><circle cx="1195" cy="476" r="2.95"/><circle cx="1201" cy="476" r="2.95"/><circle cx="1207" cy="476" r="2.95"/><circle cx="1212" cy="476" r="2.95"/><circle cx="1218" cy="476" r="2.95"/><circle cx="1224" cy="476" r="2.95"/><circle cx="1229" cy="476" r="2.95"/><circle cx="1235" cy="476" r="2.95"/><circle cx="1020" cy="483" r="2.95"/><circle cx="1025" cy="483" r="2.95"/><circle cx="1031" cy="483" r="2.95"/><circle cx="1037" cy="483" r="2.95"/><circle cx="1042" cy="483" r="2.95"/><circle cx="1048" cy="483" r="2.95"/><circle cx="1054" cy="483" r="2.95"/><circle cx="1059" cy="483" r="2.95"/><circle cx="1065" cy="483" r="2.95"/><circle cx="1071" cy="483" r="2.95"/><circle cx="1076" cy="483" r="2.95"/><circle cx="1082" cy="483" r="2.95"/><circle cx="1088" cy="483" r="2.95"/><circle cx="1093" cy="483" r="2.95"/><circle cx="1099" cy="483" r="2.95"/><circle cx="1105" cy="483" r="2.95"/><circle cx="1110" cy="483" r="2.95"/><circle cx="1116" cy="483" r="2.95"/><circle cx="1122" cy="483" r="2.95"/><circle cx="1127" cy="483" r="2.95"/><circle cx="1133" cy="483" r="2.95"/><circle cx="1139" cy="483" r="2.95"/><circle cx="1144" cy="483" r="2.95"/><circle cx="1150" cy="483" r="2.95"/><circle cx="1156" cy="483" r="2.95"/><circle cx="1161" cy="483" r="2.95"/><circle cx="1167" cy="483" r="2.95"/><circle cx="1173" cy="483" r="2.95"/><circle cx="1178" cy="483" r="2.95"/><circle cx="1184" cy="483" r="2.95"/><circle cx="1190" cy="483" r="2.95"/><circle cx="1195" cy="483" r="2.95"/><circle cx="1201" cy="483" r="2.95"/><circle cx="1207" cy="483" r="2.95"/><circle cx="1212" cy="483" r="2.95"/><circle cx="1218" cy="483" r="2.95"/><circle cx="1224" cy="483" r="2.95"/><circle cx="1229" cy="483" r="2.95"/><circle cx="1020" cy="491" r="2.95"/><circle cx="1025" cy="491" r="2.95"/><circle cx="1031" cy="491" r="2.95"/><circle cx="1037" cy="491" r="2.95"/><circle cx="1042" cy="491" r="2.95"/><circle cx="1048" cy="491" r="2.95"/><circle cx="1054" cy="491" r="2.95"/><circle cx="1059" cy="491" r="2.95"/><circle cx="1065" cy="491" r="2.95"/><circle cx="1071" cy="491" r="2.95"/><circle cx="1076" cy="491" r="2.95"/><circle cx="1082" cy="491" r="2.95"/><circle cx="1088" cy="491" r="2.95"/><circle cx="1093" cy="491" r="2.95"/><circle cx="1099" cy="491" r="2.95"/><circle cx="1105" cy="491" r="2.95"/><circle cx="1110" cy="491" r="2.95"/><circle cx="1116" cy="491" r="2.95"/><circle cx="1122" cy="491" r="2.95"/><circle cx="1127" cy="491" r="2.95"/><circle cx="1133" cy="491" r="2.95"/><circle cx="1139" cy="491" r="2.95"/><circle cx="1144" cy="491" r="2.95"/><circle cx="1150" cy="491" r="2.95"/><circle cx="1156" cy="491" r="2.95"/><circle cx="1161" cy="491" r="2.95"/><circle cx="1167" cy="491" r="2.95"/><circle cx="1173" cy="491" r="2.95"/><circle cx="1178" cy="491" r="2.95"/><circle cx="1184" cy="491" r="2.95"/><circle cx="1190" cy="491" r="2.95"/><circle cx="1195" cy="491" r="2.95"/><circle cx="1201" cy="491" r="2.95"/><circle cx="1207" cy="491" r="2.95"/><circle cx="1212" cy="491" r="2.95"/><circle cx="1218" cy="491" r="2.95"/><circle cx="1224" cy="491" r="2.95"/><circle cx="1229" cy="491" r="2.95"/><circle cx="1025" cy="498" r="2.95"/><circle cx="1031" cy="498" r="2.95"/><circle cx="1037" cy="498" r="2.95"/><circle cx="1042" cy="498" r="2.95"/><circle cx="1048" cy="498" r="2.95"/><circle cx="1054" cy="498" r="2.95"/><circle cx="1059" cy="498" r="2.95"/><circle cx="1065" cy="498" r="2.95"/><circle cx="1071" cy="498" r="2.95"/><circle cx="1076" cy="498" r="2.95"/><circle cx="1082" cy="498" r="2.95"/><circle cx="1088" cy="498" r="2.95"/><circle cx="1093" cy="498" r="2.95"/><circle cx="1099" cy="498" r="2.95"/><circle cx="1105" cy="498" r="2.95"/><circle cx="1110" cy="498" r="2.95"/><circle cx="1116" cy="498" r="2.95"/><circle cx="1122" cy="498" r="2.95"/><circle cx="1127" cy="498" r="2.95"/><circle cx="1133" cy="498" r="2.95"/><circle cx="1139" cy="498" r="2.95"/><circle cx="1144" cy="498" r="2.95"/><circle cx="1150" cy="498" r="2.95"/><circle cx="1156" cy="498" r="2.95"/><circle cx="1161" cy="498" r="2.95"/><circle cx="1167" cy="498" r="2.95"/><circle cx="1173" cy="498" r="2.95"/><circle cx="1178" cy="498" r="2.95"/><circle cx="1184" cy="498" r="2.95"/><circle cx="1190" cy="498" r="2.95"/><circle cx="1195" cy="498" r="2.95"/><circle cx="1201" cy="498" r="2.95"/><circle cx="1207" cy="498" r="2.95"/><circle cx="1212" cy="498" r="2.95"/><circle cx="1218" cy="498" r="2.95"/><circle cx="1224" cy="498" r="2.95"/><circle cx="1229" cy="498" r="2.95"/><circle cx="1025" cy="506" r="2.95"/><circle cx="1031" cy="506" r="2.95"/><circle cx="1037" cy="506" r="2.95"/><circle cx="1042" cy="506" r="2.95"/><circle cx="1048" cy="506" r="2.95"/><circle cx="1054" cy="506" r="2.95"/><circle cx="1059" cy="506" r="2.95"/><circle cx="1065" cy="506" r="2.95"/><circle cx="1071" cy="506" r="2.95"/><circle cx="1076" cy="506" r="2.95"/><circle cx="1082" cy="506" r="2.95"/><circle cx="1088" cy="506" r="2.95"/><circle cx="1093" cy="506" r="2.95"/><circle cx="1099" cy="506" r="2.95"/><circle cx="1105" cy="506" r="2.95"/><circle cx="1110" cy="506" r="2.95"/><circle cx="1116" cy="506" r="2.95"/><circle cx="1122" cy="506" r="2.95"/><circle cx="1127" cy="506" r="2.95"/><circle cx="1133" cy="506" r="2.95"/><circle cx="1139" cy="506" r="2.95"/><circle cx="1144" cy="506" r="2.95"/><circle cx="1150" cy="506" r="2.95"/><circle cx="1156" cy="506" r="2.95"/><circle cx="1161" cy="506" r="2.95"/><circle cx="1167" cy="506" r="2.95"/><circle cx="1173" cy="506" r="2.95"/><circle cx="1178" cy="506" r="2.95"/><circle cx="1184" cy="506" r="2.95"/><circle cx="1190" cy="506" r="2.95"/><circle cx="1195" cy="506" r="2.95"/><circle cx="1201" cy="506" r="2.95"/><circle cx="1207" cy="506" r="2.95"/><circle cx="1212" cy="506" r="2.95"/><circle cx="1218" cy="506" r="2.95"/><circle cx="1224" cy="506" r="2.95"/><circle cx="1031" cy="514" r="2.95"/><circle cx="1037" cy="514" r="2.95"/><circle cx="1042" cy="514" r="2.95"/><circle cx="1048" cy="514" r="2.95"/><circle cx="1054" cy="514" r="2.95"/><circle cx="1059" cy="514" r="2.95"/><circle cx="1065" cy="514" r="2.95"/><circle cx="1071" cy="514" r="2.95"/><circle cx="1076" cy="514" r="2.95"/><circle cx="1082" cy="514" r="2.95"/><circle cx="1088" cy="514" r="2.95"/><circle cx="1093" cy="514" r="2.95"/><circle cx="1099" cy="514" r="2.95"/><circle cx="1105" cy="514" r="2.95"/><circle cx="1110" cy="514" r="2.95"/><circle cx="1116" cy="514" r="2.95"/><circle cx="1122" cy="514" r="2.95"/><circle cx="1127" cy="514" r="2.95"/><circle cx="1133" cy="514" r="2.95"/><circle cx="1139" cy="514" r="2.95"/><circle cx="1144" cy="514" r="2.95"/><circle cx="1150" cy="514" r="2.95"/><circle cx="1156" cy="514" r="2.95"/><circle cx="1161" cy="514" r="2.95"/><circle cx="1167" cy="514" r="2.95"/><circle cx="1173" cy="514" r="2.95"/><circle cx="1178" cy="514" r="2.95"/><circle cx="1184" cy="514" r="2.95"/><circle cx="1190" cy="514" r="2.95"/><circle cx="1195" cy="514" r="2.95"/><circle cx="1201" cy="514" r="2.95"/><circle cx="1207" cy="514" r="2.95"/><circle cx="1212" cy="514" r="2.95"/><circle cx="1218" cy="514" r="2.95"/><circle cx="1224" cy="514" r="2.95"/><circle cx="1031" cy="521" r="2.95"/><circle cx="1037" cy="521" r="2.95"/><circle cx="1042" cy="521" r="2.95"/><circle cx="1048" cy="521" r="2.95"/><circle cx="1054" cy="521" r="2.95"/><circle cx="1059" cy="521" r="2.95"/><circle cx="1065" cy="521" r="2.95"/><circle cx="1071" cy="521" r="2.95"/><circle cx="1076" cy="521" r="2.95"/><circle cx="1082" cy="521" r="2.95"/><circle cx="1088" cy="521" r="2.95"/><circle cx="1093" cy="521" r="2.95"/><circle cx="1099" cy="521" r="2.95"/><circle cx="1105" cy="521" r="2.95"/><circle cx="1110" cy="521" r="2.95"/><circle cx="1116" cy="521" r="2.95"/><circle cx="1122" cy="521" r="2.95"/><circle cx="1127" cy="521" r="2.95"/><circle cx="1133" cy="521" r="2.95"/><circle cx="1139" cy="521" r="2.95"/><circle cx="1144" cy="521" r="2.95"/><circle cx="1150" cy="521" r="2.95"/><circle cx="1156" cy="521" r="2.95"/><circle cx="1161" cy="521" r="2.95"/><circle cx="1167" cy="521" r="2.95"/><circle cx="1173" cy="521" r="2.95"/><circle cx="1178" cy="521" r="2.95"/><circle cx="1184" cy="521" r="2.95"/><circle cx="1190" cy="521" r="2.95"/><circle cx="1195" cy="521" r="2.95"/><circle cx="1201" cy="521" r="2.95"/><circle cx="1207" cy="521" r="2.95"/><circle cx="1212" cy="521" r="2.95"/><circle cx="1218" cy="521" r="2.95"/><circle cx="1037" cy="529" r="2.95"/><circle cx="1042" cy="529" r="2.95"/><circle cx="1048" cy="529" r="2.95"/><circle cx="1054" cy="529" r="2.95"/><circle cx="1059" cy="529" r="2.95"/><circle cx="1065" cy="529" r="2.95"/><circle cx="1071" cy="529" r="2.95"/><circle cx="1076" cy="529" r="2.95"/><circle cx="1082" cy="529" r="2.95"/><circle cx="1088" cy="529" r="2.95"/><circle cx="1093" cy="529" r="2.95"/><circle cx="1099" cy="529" r="2.95"/><circle cx="1105" cy="529" r="2.95"/><circle cx="1110" cy="529" r="2.95"/><circle cx="1116" cy="529" r="2.95"/><circle cx="1122" cy="529" r="2.95"/><circle cx="1127" cy="529" r="2.95"/><circle cx="1133" cy="529" r="2.95"/><circle cx="1139" cy="529" r="2.95"/><circle cx="1144" cy="529" r="2.95"/><circle cx="1150" cy="529" r="2.95"/><circle cx="1156" cy="529" r="2.95"/><circle cx="1161" cy="529" r="2.95"/><circle cx="1167" cy="529" r="2.95"/><circle cx="1173" cy="529" r="2.95"/><circle cx="1178" cy="529" r="2.95"/><circle cx="1184" cy="529" r="2.95"/><circle cx="1190" cy="529" r="2.95"/><circle cx="1195" cy="529" r="2.95"/><circle cx="1201" cy="529" r="2.95"/><circle cx="1207" cy="529" r="2.95"/><circle cx="1212" cy="529" r="2.95"/><circle cx="1218" cy="529" r="2.95"/><circle cx="1042" cy="536" r="2.95"/><circle cx="1048" cy="536" r="2.95"/><circle cx="1054" cy="536" r="2.95"/><circle cx="1059" cy="536" r="2.95"/><circle cx="1065" cy="536" r="2.95"/><circle cx="1071" cy="536" r="2.95"/><circle cx="1076" cy="536" r="2.95"/><circle cx="1082" cy="536" r="2.95"/><circle cx="1088" cy="536" r="2.95"/><circle cx="1093" cy="536" r="2.95"/><circle cx="1099" cy="536" r="2.95"/><circle cx="1105" cy="536" r="2.95"/><circle cx="1110" cy="536" r="2.95"/><circle cx="1116" cy="536" r="2.95"/><circle cx="1122" cy="536" r="2.95"/><circle cx="1127" cy="536" r="2.95"/><circle cx="1133" cy="536" r="2.95"/><circle cx="1139" cy="536" r="2.95"/><circle cx="1144" cy="536" r="2.95"/><circle cx="1150" cy="536" r="2.95"/><circle cx="1156" cy="536" r="2.95"/><circle cx="1161" cy="536" r="2.95"/><circle cx="1167" cy="536" r="2.95"/><circle cx="1173" cy="536" r="2.95"/><circle cx="1178" cy="536" r="2.95"/><circle cx="1184" cy="536" r="2.95"/><circle cx="1190" cy="536" r="2.95"/><circle cx="1195" cy="536" r="2.95"/><circle cx="1201" cy="536" r="2.95"/><circle cx="1207" cy="536" r="2.95"/><circle cx="1212" cy="536" r="2.95"/><circle cx="1042" cy="544" r="2.95"/><circle cx="1048" cy="544" r="2.95"/><circle cx="1054" cy="544" r="2.95"/><circle cx="1059" cy="544" r="2.95"/><circle cx="1065" cy="544" r="2.95"/><circle cx="1071" cy="544" r="2.95"/><circle cx="1076" cy="544" r="2.95"/><circle cx="1082" cy="544" r="2.95"/><circle cx="1088" cy="544" r="2.95"/><circle cx="1093" cy="544" r="2.95"/><circle cx="1099" cy="544" r="2.95"/><circle cx="1105" cy="544" r="2.95"/><circle cx="1110" cy="544" r="2.95"/><circle cx="1116" cy="544" r="2.95"/><circle cx="1122" cy="544" r="2.95"/><circle cx="1127" cy="544" r="2.95"/><circle cx="1133" cy="544" r="2.95"/><circle cx="1139" cy="544" r="2.95"/><circle cx="1144" cy="544" r="2.95"/><circle cx="1150" cy="544" r="2.95"/><circle cx="1156" cy="544" r="2.95"/><circle cx="1161" cy="544" r="2.95"/><circle cx="1167" cy="544" r="2.95"/><circle cx="1173" cy="544" r="2.95"/><circle cx="1178" cy="544" r="2.95"/><circle cx="1184" cy="544" r="2.95"/><circle cx="1190" cy="544" r="2.95"/><circle cx="1195" cy="544" r="2.95"/><circle cx="1201" cy="544" r="2.95"/><circle cx="1207" cy="544" r="2.95"/><circle cx="1048" cy="551" r="2.95"/><circle cx="1054" cy="551" r="2.95"/><circle cx="1059" cy="551" r="2.95"/><circle cx="1065" cy="551" r="2.95"/><circle cx="1071" cy="551" r="2.95"/><circle cx="1076" cy="551" r="2.95"/><circle cx="1082" cy="551" r="2.95"/><circle cx="1088" cy="551" r="2.95"/><circle cx="1093" cy="551" r="2.95"/><circle cx="1099" cy="551" r="2.95"/><circle cx="1105" cy="551" r="2.95"/><circle cx="1110" cy="551" r="2.95"/><circle cx="1116" cy="551" r="2.95"/><circle cx="1122" cy="551" r="2.95"/><circle cx="1127" cy="551" r="2.95"/><circle cx="1133" cy="551" r="2.95"/><circle cx="1139" cy="551" r="2.95"/><circle cx="1144" cy="551" r="2.95"/><circle cx="1150" cy="551" r="2.95"/><circle cx="1156" cy="551" r="2.95"/><circle cx="1161" cy="551" r="2.95"/><circle cx="1167" cy="551" r="2.95"/><circle cx="1173" cy="551" r="2.95"/><circle cx="1178" cy="551" r="2.95"/><circle cx="1184" cy="551" r="2.95"/><circle cx="1190" cy="551" r="2.95"/><circle cx="1195" cy="551" r="2.95"/><circle cx="1201" cy="551" r="2.95"/><circle cx="1059" cy="559" r="2.95"/><circle cx="1065" cy="559" r="2.95"/><circle cx="1071" cy="559" r="2.95"/><circle cx="1076" cy="559" r="2.95"/><circle cx="1082" cy="559" r="2.95"/><circle cx="1088" cy="559" r="2.95"/><circle cx="1093" cy="559" r="2.95"/><circle cx="1099" cy="559" r="2.95"/><circle cx="1105" cy="559" r="2.95"/><circle cx="1110" cy="559" r="2.95"/><circle cx="1116" cy="559" r="2.95"/><circle cx="1122" cy="559" r="2.95"/><circle cx="1127" cy="559" r="2.95"/><circle cx="1133" cy="559" r="2.95"/><circle cx="1139" cy="559" r="2.95"/><circle cx="1144" cy="559" r="2.95"/><circle cx="1150" cy="559" r="2.95"/><circle cx="1156" cy="559" r="2.95"/><circle cx="1161" cy="559" r="2.95"/><circle cx="1167" cy="559" r="2.95"/><circle cx="1173" cy="559" r="2.95"/><circle cx="1178" cy="559" r="2.95"/><circle cx="1184" cy="559" r="2.95"/><circle cx="1190" cy="559" r="2.95"/><circle cx="1195" cy="559" r="2.95"/><circle cx="1065" cy="566" r="2.95"/><circle cx="1071" cy="566" r="2.95"/><circle cx="1076" cy="566" r="2.95"/><circle cx="1082" cy="566" r="2.95"/><circle cx="1088" cy="566" r="2.95"/><circle cx="1093" cy="566" r="2.95"/><circle cx="1099" cy="566" r="2.95"/><circle cx="1105" cy="566" r="2.95"/><circle cx="1110" cy="566" r="2.95"/><circle cx="1116" cy="566" r="2.95"/><circle cx="1122" cy="566" r="2.95"/><circle cx="1127" cy="566" r="2.95"/><circle cx="1133" cy="566" r="2.95"/><circle cx="1139" cy="566" r="2.95"/><circle cx="1144" cy="566" r="2.95"/><circle cx="1150" cy="566" r="2.95"/><circle cx="1156" cy="566" r="2.95"/><circle cx="1161" cy="566" r="2.95"/><circle cx="1167" cy="566" r="2.95"/><circle cx="1173" cy="566" r="2.95"/><circle cx="1178" cy="566" r="2.95"/><circle cx="1184" cy="566" r="2.95"/><circle cx="1190" cy="566" r="2.95"/><circle cx="1071" cy="574" r="2.95"/><circle cx="1076" cy="574" r="2.95"/><circle cx="1082" cy="574" r="2.95"/><circle cx="1088" cy="574" r="2.95"/><circle cx="1093" cy="574" r="2.95"/><circle cx="1099" cy="574" r="2.95"/><circle cx="1105" cy="574" r="2.95"/><circle cx="1110" cy="574" r="2.95"/><circle cx="1116" cy="574" r="2.95"/><circle cx="1122" cy="574" r="2.95"/><circle cx="1127" cy="574" r="2.95"/><circle cx="1133" cy="574" r="2.95"/><circle cx="1139" cy="574" r="2.95"/><circle cx="1144" cy="574" r="2.95"/><circle cx="1150" cy="574" r="2.95"/><circle cx="1156" cy="574" r="2.95"/><circle cx="1161" cy="574" r="2.95"/><circle cx="1167" cy="574" r="2.95"/><circle cx="1173" cy="574" r="2.95"/><circle cx="1178" cy="574" r="2.95"/><circle cx="1082" cy="581" r="2.95"/><circle cx="1088" cy="581" r="2.95"/><circle cx="1093" cy="581" r="2.95"/><circle cx="1099" cy="581" r="2.95"/><circle cx="1105" cy="581" r="2.95"/><circle cx="1110" cy="581" r="2.95"/><circle cx="1116" cy="581" r="2.95"/><circle cx="1122" cy="581" r="2.95"/><circle cx="1127" cy="581" r="2.95"/><circle cx="1133" cy="581" r="2.95"/><circle cx="1139" cy="581" r="2.95"/><circle cx="1144" cy="581" r="2.95"/><circle cx="1150" cy="581" r="2.95"/><circle cx="1156" cy="581" r="2.95"/><circle cx="1161" cy="581" r="2.95"/><circle cx="1167" cy="581" r="2.95"/><circle cx="1105" cy="589" r="2.95"/><circle cx="1110" cy="589" r="2.95"/><circle cx="1116" cy="589" r="2.95"/><circle cx="1122" cy="589" r="2.95"/><circle cx="1127" cy="589" r="2.95"/><circle cx="1133" cy="589" r="2.95"/><circle cx="1139" cy="589" r="2.95"/><circle cx="1144" cy="589" r="2.95"/><circle cx="1150" cy="589" r="2.95"/></g>
<path d="M811.5 87.5V626.5M839.5 87.5V626.5M867.5 87.5V626.5M895.5 87.5V626.5M924.5 87.5V626.5M952.5 87.5V626.5M980.5 87.5V626.5M1008.5 87.5V626.5M1036.5 87.5V626.5M1065.5 87.5V626.5M1093.5 87.5V626.5M1121.5 87.5V626.5M1149.5 87.5V626.5M1177.5 87.5V626.5M1205.5 87.5V626.5M1234.5 87.5V626.5M1262.5 87.5V626.5M1290.5 87.5V626.5M1318.5 87.5V626.5" stroke="#000" stroke-opacity="0.74" stroke-width="1" fill="none" shape-rendering="crispEdges"/><path d="M783.5 114.5H1346.5M783.5 141.5H1346.5M783.5 168.5H1346.5M783.5 195.5H1346.5M783.5 221.5H1346.5M783.5 248.5H1346.5M783.5 275.5H1346.5M783.5 302.5H1346.5M783.5 329.5H1346.5M783.5 356.5H1346.5M783.5 383.5H1346.5M783.5 410.5H1346.5M783.5 437.5H1346.5M783.5 464.5H1346.5M783.5 491.5H1346.5M783.5 518.5H1346.5M783.5 545.5H1346.5M783.5 572.5H1346.5M783.5 599.5H1346.5" stroke="#000" stroke-opacity="0.74" stroke-width="1" fill="none" shape-rendering="crispEdges"/>
<rect x="783.5" y="87.5" width="563.0" height="539.0" fill="none" stroke="#000" stroke-width="1.1"/><path d="M783.5 626.5v5M811.5 626.5v5M839.5 626.5v5M867.5 626.5v5M895.5 626.5v5M924.5 626.5v5M952.5 626.5v5M980.5 626.5v5M1008.5 626.5v5M1036.5 626.5v5M1065.5 626.5v5M1093.5 626.5v5M1121.5 626.5v5M1149.5 626.5v5M1177.5 626.5v5M1205.5 626.5v5M1234.5 626.5v5M1262.5 626.5v5M1290.5 626.5v5M1318.5 626.5v5M783.5 114.5h-5M783.5 141.5h-5M783.5 168.5h-5M783.5 195.5h-5M783.5 221.5h-5M783.5 248.5h-5M783.5 275.5h-5M783.5 302.5h-5M783.5 329.5h-5M783.5 356.5h-5M783.5 383.5h-5M783.5 410.5h-5M783.5 437.5h-5M783.5 464.5h-5M783.5 491.5h-5M783.5 518.5h-5M783.5 545.5h-5M783.5 572.5h-5M783.5 599.5h-5M783.5 626.5h-5" stroke="#000" stroke-width="1.1" fill="none"/>
<g font-size="14.7" fill="#000"><text x="783.50" y="646.9" text-anchor="middle" textLength="21.2" lengthAdjust="spacingAndGlyphs">5.7</text><text x="811.50" y="646.9" text-anchor="middle" textLength="21.2" lengthAdjust="spacingAndGlyphs">5.9</text><text x="839.50" y="646.9" text-anchor="middle" textLength="21.2" lengthAdjust="spacingAndGlyphs">6.1</text><text x="867.50" y="646.9" text-anchor="middle" textLength="21.2" lengthAdjust="spacingAndGlyphs">6.2</text><text x="895.50" y="646.9" text-anchor="middle" textLength="21.2" lengthAdjust="spacingAndGlyphs">6.4</text><text x="924.50" y="646.9" text-anchor="middle" textLength="21.2" lengthAdjust="spacingAndGlyphs">6.6</text><text x="952.50" y="646.9" text-anchor="middle" textLength="21.2" lengthAdjust="spacingAndGlyphs">6.8</text><text x="980.50" y="646.9" text-anchor="middle" textLength="21.2" lengthAdjust="spacingAndGlyphs">7.0</text><text x="1008.50" y="646.9" text-anchor="middle" textLength="21.2" lengthAdjust="spacingAndGlyphs">7.1</text><text x="1036.50" y="646.9" text-anchor="middle" textLength="21.2" lengthAdjust="spacingAndGlyphs">7.3</text><text x="1065.50" y="646.9" text-anchor="middle" textLength="21.2" lengthAdjust="spacingAndGlyphs">7.5</text><text x="1093.50" y="646.9" text-anchor="middle" textLength="21.2" lengthAdjust="spacingAndGlyphs">7.7</text><text x="1121.50" y="646.9" text-anchor="middle" textLength="21.2" lengthAdjust="spacingAndGlyphs">7.9</text><text x="1149.50" y="646.9" text-anchor="middle" textLength="21.2" lengthAdjust="spacingAndGlyphs">8.0</text><text x="1177.50" y="646.9" text-anchor="middle" textLength="21.2" lengthAdjust="spacingAndGlyphs">8.2</text><text x="1205.50" y="646.9" text-anchor="middle" textLength="21.2" lengthAdjust="spacingAndGlyphs">8.4</text><text x="1234.50" y="646.9" text-anchor="middle" textLength="21.2" lengthAdjust="spacingAndGlyphs">8.6</text><text x="1262.50" y="646.9" text-anchor="middle" textLength="21.2" lengthAdjust="spacingAndGlyphs">8.8</text><text x="1290.50" y="646.9" text-anchor="middle" textLength="21.2" lengthAdjust="spacingAndGlyphs">8.9</text><text x="1318.50" y="646.9" text-anchor="middle" textLength="21.2" lengthAdjust="spacingAndGlyphs">9.1</text><text x="772.90" y="120.00" text-anchor="end" textLength="21.2" lengthAdjust="spacingAndGlyphs">9.2</text><text x="772.90" y="147.00" text-anchor="end" textLength="21.2" lengthAdjust="spacingAndGlyphs">9.1</text><text x="772.90" y="174.00" text-anchor="end" textLength="21.2" lengthAdjust="spacingAndGlyphs">9.0</text><text x="772.90" y="201.00" text-anchor="end" textLength="21.2" lengthAdjust="spacingAndGlyphs">8.8</text><text x="772.90" y="227.00" text-anchor="end" textLength="21.2" lengthAdjust="spacingAndGlyphs">8.7</text><text x="772.90" y="254.00" text-anchor="end" textLength="21.2" lengthAdjust="spacingAndGlyphs">8.6</text><text x="772.90" y="281.00" text-anchor="end" textLength="21.2" lengthAdjust="spacingAndGlyphs">8.5</text><text x="772.90" y="308.00" text-anchor="end" textLength="21.2" lengthAdjust="spacingAndGlyphs">8.3</text><text x="772.90" y="335.00" text-anchor="end" textLength="21.2" lengthAdjust="spacingAndGlyphs">8.2</text><text x="772.90" y="362.00" text-anchor="end" textLength="21.2" lengthAdjust="spacingAndGlyphs">8.1</text><text x="772.90" y="389.00" text-anchor="end" textLength="21.2" lengthAdjust="spacingAndGlyphs">7.9</text><text x="772.90" y="416.00" text-anchor="end" textLength="21.2" lengthAdjust="spacingAndGlyphs">7.8</text><text x="772.90" y="443.00" text-anchor="end" textLength="21.2" lengthAdjust="spacingAndGlyphs">7.7</text><text x="772.90" y="470.00" text-anchor="end" textLength="21.2" lengthAdjust="spacingAndGlyphs">7.5</text><text x="772.90" y="497.00" text-anchor="end" textLength="21.2" lengthAdjust="spacingAndGlyphs">7.4</text><text x="772.90" y="524.00" text-anchor="end" textLength="21.2" lengthAdjust="spacingAndGlyphs">7.3</text><text x="772.90" y="551.00" text-anchor="end" textLength="21.2" lengthAdjust="spacingAndGlyphs">7.2</text><text x="772.90" y="578.00" text-anchor="end" textLength="21.2" lengthAdjust="spacingAndGlyphs">7.0</text><text x="772.90" y="605.00" text-anchor="end" textLength="21.2" lengthAdjust="spacingAndGlyphs">6.9</text><text x="772.90" y="632.00" text-anchor="end" textLength="21.2" lengthAdjust="spacingAndGlyphs">6.8</text><text x="1065.00" y="665.9" text-anchor="middle" textLength="8.6" lengthAdjust="spacingAndGlyphs">X</text><text transform="translate(742.20 357.00) rotate(-90)" x="0" y="0" text-anchor="middle">Y</text></g>
<text x="829.87" y="77.95" font-size="20.3" textLength="468.70" lengthAdjust="spacingAndGlyphs">Площадь деформированного множества |Xd|</text>
<rect x="791.50" y="95.05" width="323.20" height="31.40" rx="4.2" ry="4.2" fill="#fff" fill-opacity="0.8" stroke="#cccccc" stroke-width="1.1"/><circle cx="814.5" cy="111.35" r="3.1" fill="#0000ff"/><text x="843.36" y="115.5" font-size="17.4" textLength="263.90" lengthAdjust="spacingAndGlyphs">Распознанное AE2 множество</text>
</svg>
</body></html>
